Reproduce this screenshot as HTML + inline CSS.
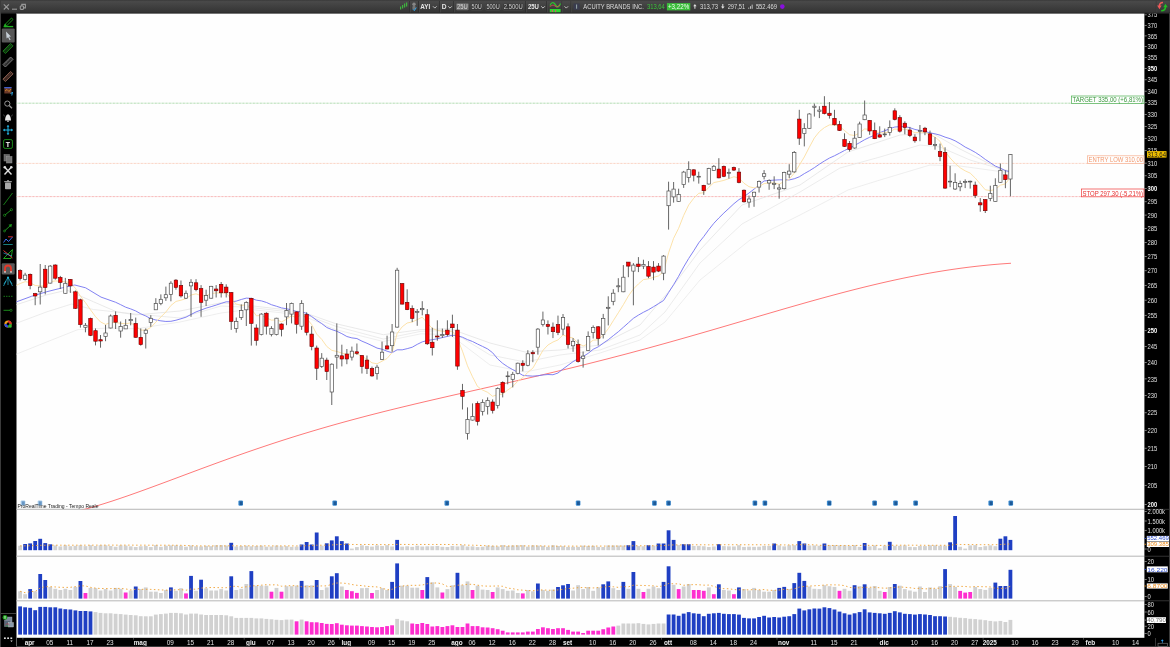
<!DOCTYPE html><html><head><meta charset="utf-8"><style>
html,body{margin:0;padding:0;background:#000;width:1170px;height:647px;overflow:hidden}
svg{display:block;font-family:"Liberation Sans",sans-serif;will-change:transform;opacity:0.999}
</style></head><body>
<svg width="1170" height="647" viewBox="0 0 1170 647">
<defs><linearGradient id="tb" x1="0" y1="0" x2="0" y2="1"><stop offset="0" stop-color="#3a3a3a"/><stop offset="0.12" stop-color="#4a4a4a"/><stop offset="1" stop-color="#343434"/></linearGradient><clipPath id="main"><rect x="16.4" y="13.6" width="1128" height="495.6"/></clipPath></defs>
<rect x="0" y="0" width="1170" height="647" fill="#000"/>
<rect x="0" y="0" width="1170" height="13" fill="url(#tb)"/>
<rect x="0" y="12.4" width="1170" height="1.2" fill="#2b2b2b"/>
<rect x="0" y="0" width="1" height="647" fill="#3c3c3c"/>
<rect x="1169" y="13" width="1" height="634" fill="#3c3c3c"/>
<rect x="16.4" y="13.6" width="1128" height="624.2" fill="#fff"/>
<rect x="16" y="13.6" width="0.8" height="633.4" fill="#7a7a7a"/>
<rect x="16.4" y="508.75" width="1128" height="1.1" fill="#bdbdbd"/>
<rect x="1144.4" y="508.85" width="24.6" height="0.9" fill="#3a3a3a"/>
<rect x="16.4" y="555.65" width="1128" height="1.1" fill="#bdbdbd"/>
<rect x="1144.4" y="555.75" width="24.6" height="0.9" fill="#3a3a3a"/>
<rect x="16.4" y="600.25" width="1128" height="1.1" fill="#bdbdbd"/>
<rect x="1144.4" y="600.35" width="24.6" height="0.9" fill="#3a3a3a"/>
<rect x="1" y="613" width="15" height="0.8" fill="#555"/>
<g clip-path="url(#main)">
<line x1="16.4" y1="103.2" x2="1144.4" y2="103.2" stroke="#84c884" stroke-width="0.9" stroke-dasharray="0.7 0.7"/>
<line x1="16.4" y1="163.4" x2="1144.4" y2="163.4" stroke="#f8bca4" stroke-width="0.9" stroke-dasharray="0.7 0.7"/>
<line x1="16.4" y1="196.6" x2="1144.4" y2="196.6" stroke="#f49090" stroke-width="0.9" stroke-dasharray="0.7 0.7"/>
<polyline points="16,354.3 46.9,341.9 77.9,329.6 108.8,328 136,328.8 180,322 221,313 250,309.4 301.3,315 335.5,329.6 383.3,341.5 421,333.8 450,334.7 490,365 525,372 560,365 600,353 640,340 665,322 700,280 750,240 800,215 848,190 880,180 930,165 960,166 1011,173" fill="none" stroke="#ebebeb" stroke-width="0.8"/>
<polyline points="16,323.4 46.9,311.8 71.7,304 93.3,309.5 136,314.1 180,318 221,306 250,307.4 301.3,313.3 335.5,326.2 383.3,339 421,331.3 450,330.4 490,355 525,362 560,355 600,350 640,335 665,312 700,263 742,224 800,192 840,168 880,157 920,145 940,147 970,160 1011,172" fill="none" stroke="#e8e8e8" stroke-width="0.8"/>
<polyline points="16,304.8 46.9,294.8 67,290.1 93.3,301.7 116.5,311.8 136,314.9 180,311 221,302.8 250,305.6 301.3,311.6 335.5,323.6 383.3,334.7 421,329.6 450,328.7 490,343 525,352 560,350 600,345 640,325 670,290 700,250 742,205 800,185 848,152 900,135 932,133 960,149 1000,169 1011,171" fill="none" stroke="#e4e4e4" stroke-width="0.8"/>
<polyline points="80,510.57 88,508.42 96,506.12 104,503.67 112,501.11 120,498.45 128,495.71 136,492.89 144,490.01 152,487.09 160,484.14 168,481.16 176,478.18 184,475.18 192,472.19 200,469.21 208,466.25 216,463.32 224,460.41 232,457.53 240,454.7 248,451.9 256,449.15 264,446.44 272,443.78 280,441.16 288,438.6 296,436.09 304,433.63 312,431.22 320,428.85 328,426.54 336,424.27 344,422.05 352,419.87 360,417.74 368,415.64 376,413.58 384,411.56 392,409.57 400,407.62 408,405.69 416,403.78 424,401.9 432,400.03 440,398.19 448,396.35 456,394.53 464,392.72 472,390.91 480,389.1 488,387.3 496,385.49 504,383.67 512,381.85 520,380.02 528,378.17 536,376.32 544,374.44 552,372.55 560,370.64 568,368.71 576,366.76 584,364.78 592,362.79 600,360.76 608,358.72 616,356.64 624,354.55 632,352.43 640,350.28 648,348.11 656,345.92 664,343.7 672,341.46 680,339.2 688,336.93 696,334.63 704,332.32 712,330 720,327.67 728,325.33 736,322.98 744,320.63 752,318.27 760,315.92 768,313.58 776,311.25 784,308.92 792,306.62 800,304.33 808,302.06 816,299.82 824,297.62 832,295.44 840,293.31 848,291.21 856,289.16 864,287.16 872,285.22 880,283.33 888,281.5 896,279.74 904,278.04 912,276.42 920,274.87 928,273.4 936,272 944,270.69 952,269.47 960,268.34 968,267.29 976,266.33 984,265.47 992,264.7 1000,264.03 1008,263.45 1011,263.25" fill="none" stroke="#ff6262" stroke-width="0.85"/>
<polyline points="16,302 31.5,296.3 46.9,291.7 62.4,287.8 74.8,285 85.6,287.8 101,297.1 115.61,302.27 120.64,304.66 125.67,307.19 130.69,308.91 135.72,310.95 140.75,313.82 145.78,315.97 150.8,318.66 155.83,319.98 160.86,320.85 165.88,321.45 170.91,321.31 175.94,320.23 180.96,318.78 185.99,317.16 191.02,314.48 196.04,311.91 201.07,310.01 206.1,308.15 211.13,306.65 216.15,305.08 221.18,303.42 226.21,301.8 231.23,301.89 236.26,301.13 241.29,299.48 246.31,298.12 251.34,298.37 256.37,300.16 261.4,300.89 266.42,302.45 271.45,304.71 276.48,306.26 281.5,307.92 286.53,308.78 291.56,309.86 296.59,311.6 301.61,311.65 306.64,313.48 311.67,316.49 316.69,320.31 321.72,323.57 326.75,327.47 331.77,329.58 336.8,331.25 341.83,333.67 346.86,336.51 351.88,337.9 356.91,338.54 361.94,341.17 366.96,343.27 371.99,345.61 377.02,348.07 382.04,349.23 387.07,351.21 392.1,352.7 397.13,349.8 402.15,349.84 407.18,348.67 412.21,347.23 417.23,344.37 422.26,341.86 427.29,340.5 432.31,339.69 437.34,338.79 442.37,337.58 447.4,336.38 452.42,335.21 457.45,335.83 462.48,337.23 467.5,339.61 472.53,341.5 477.56,344.04 482.58,346.45 487.61,348.93 492.64,352.76 497.67,358.88 502.69,363.37 507.72,366.77 512.75,369.65 517.77,372.34 522.8,375.32 527.83,375.84 532.85,376.15 537.88,375.73 542.91,374.96 547.94,374.53 552.96,374.74 557.99,373.01 563.02,368.99 568.04,365.31 573.07,361.62 578.1,358.75 583.12,356.49 588.15,353.35 593.18,349.29 598.21,346.84 603.23,343.19 608.26,339.76 613.29,335.68 618.31,331.76 623.34,327.31 628.37,322.83 633.39,318.33 638.42,315.12 643.45,312.27 648.48,309.72 653.5,306.72 658.53,303.63 663.56,300.5 668.58,292.52 673.61,284.67 678.64,276.26 683.66,266.95 688.69,258.48 693.72,250.83 698.75,242.81 703.77,236.54 708.8,229.64 713.83,223.31 718.85,217.99 723.88,213.01 728.91,208.38 733.93,203.7 738.96,199.62 743.99,196.62 749.01,192.97 754.04,189.18 759.07,184.91 764.1,180.95 769.12,180.43 774.15,180.14 779.18,179.82 784.2,179.84 789.23,179.93 794.26,178.78 799.29,176.82 804.31,173.65 809.34,170.81 814.37,167.67 819.39,164.19 824.42,160.97 829.45,158.07 834.47,155.77 839.5,153.18 844.53,150.49 849.56,148.09 854.58,145.45 859.61,142.61 864.64,139.69 869.66,137.27 874.69,135.11 879.72,132.66 884.74,130.79 889.77,128.66 894.8,127.02 899.83,126.67 904.85,126.61 909.88,127.69 914.91,129.44 919.93,130.47 924.96,131.4 929.99,132.86 935.01,133.84 940.04,135.13 945.07,137.13 950.1,138.66 955.12,140.82 960.15,143.75 965.18,147.07 970.2,149.56 975.23,152.34 980.26,155.65 985.28,159.42 990.31,162.72 995.34,166.07 1000.37,168.07 1005.39,170.73 1010.42,171.72" fill="none" stroke="#7c7cf2" stroke-width="0.95"/>
<polyline points="16,285.5 20.1,283.55 25.13,281.66 30.15,282.54 35.18,285.51 40.21,285.86 45.23,286.23 50.26,281.71 55.29,280.93 60.32,281.28 65.34,281.73 70.37,282.65 75.4,288.28 80.42,296.2 85.45,302.58 90.48,309.75 95.5,316.63 100.53,321.98 105.56,324.42 110.59,322.54 115.61,322.46 120.64,323.34 125.67,323.77 130.69,322.84 135.72,326.03 140.75,330.12 145.78,330.14 150.8,327.49 155.83,322.12 160.86,316.99 165.88,311.98 170.91,305.49 175.94,301.44 180.96,300.2 185.99,298.66 191.02,295 196.04,293.82 201.07,295.72 206.1,295.69 211.13,293.59 216.15,292.97 221.18,292.93 226.21,292.9 231.23,299.15 236.26,304.04 241.29,305.49 246.31,304.8 251.34,308.9 256.37,315.79 261.4,315.41 266.42,317.8 271.45,320.18 276.48,319.74 281.5,321.86 286.53,319.3 291.56,315.74 296.59,317.63 301.61,314.45 306.64,318.38 311.67,324.56 316.69,334.07 321.72,339.37 326.75,346.42 331.77,350.33 336.8,351.43 341.83,353.11 346.86,354.41 351.88,353.7 356.91,353.61 361.94,356.48 366.96,359.13 371.99,362.83 377.02,363.8 382.04,361.21 387.07,358.48 392.1,352.51 397.13,333.46 402.15,326.84 407.18,322.99 412.21,321.97 417.23,319.65 422.26,317.18 427.29,323.02 432.31,328.44 437.34,330.33 442.37,331.28 447.4,332.02 452.42,331.05 457.45,338.71 462.48,351.16 467.5,365.84 472.53,376.82 477.56,386.53 482.58,390.03 487.61,392.32 492.64,396.32 497.67,394.56 502.69,394.08 507.72,390 512.75,386.48 517.77,381.25 522.8,377.68 527.83,372.31 532.85,368.16 537.88,359.31 542.91,350.4 547.94,345.02 552.96,342.04 557.99,339.91 563.02,334.9 568.04,337.02 573.07,337.97 578.1,343.16 583.12,346.02 588.15,343.87 593.18,340.18 598.21,339.81 603.23,335 608.26,328.76 613.29,320.71 618.31,312.82 623.34,304.76 628.37,296 633.39,289.03 638.42,283.97 643.45,279.6 648.48,278.84 653.5,277.34 658.53,275.95 663.56,271.49 668.58,252.87 673.61,238.24 678.64,228.28 683.66,215.44 688.69,204.97 693.72,198.26 698.75,193.32 703.77,192.74 708.8,187.31 713.83,182.59 718.85,181.55 723.88,180.38 728.91,178.62 733.93,176.72 738.96,178 743.99,183.23 749.01,186.7 754.04,187.92 759.07,186.47 764.1,183.61 769.12,182.92 774.15,183 779.18,184.09 784.2,181.5 789.23,179.18 794.26,173.19 799.29,165.28 804.31,156.98 809.34,147.22 814.37,137.92 819.39,131.65 824.42,127.58 829.45,124.88 834.47,124.86 839.5,126.11 844.53,130.57 849.56,134.74 854.58,135.51 859.61,132.94 864.64,128.91 869.66,129.38 874.69,131.44 879.72,132.69 884.74,132.98 889.77,131.74 894.8,129 899.83,129.49 904.85,129.03 909.88,130.48 914.91,132.76 919.93,132.28 924.96,132.2 929.99,134.91 935.01,137.03 940.04,141.34 945.07,151.49 950.1,158 955.12,163.37 960.15,167.8 965.18,170.85 970.2,173.14 975.23,178.03 980.26,183.92 985.28,189.79 990.31,190.59 995.34,189.46 1000.37,185.16 1005.39,183.92 1010.42,177.31" fill="none" stroke="#fde2a6" stroke-width="0.95"/>
<line x1="20.1" y1="269.2" x2="20.1" y2="280.5" stroke="#555" stroke-width="0.9"/>
<rect x="18.35" y="270.5" width="3.5" height="8" fill="#f00" stroke="#6a0000" stroke-width="0.6"/>
<line x1="25.13" y1="272.8" x2="25.13" y2="280.5" stroke="#555" stroke-width="0.9"/>
<rect x="23.48" y="275.1" width="3.3" height="4.3" fill="#fff" stroke="#505050" stroke-width="0.7"/>
<line x1="30.15" y1="273.5" x2="30.15" y2="289.3" stroke="#555" stroke-width="0.9"/>
<rect x="28.4" y="274.3" width="3.5" height="11.3" fill="#f00" stroke="#6a0000" stroke-width="0.6"/>
<line x1="35.18" y1="292.9" x2="35.18" y2="305.2" stroke="#555" stroke-width="0.9"/>
<rect x="33.43" y="293.6" width="3.5" height="2.4" fill="#f00" stroke="#6a0000" stroke-width="0.6"/>
<line x1="40.21" y1="264" x2="40.21" y2="304.5" stroke="#555" stroke-width="0.9"/>
<rect x="38.56" y="287.1" width="3.3" height="4.7" fill="#fff" stroke="#505050" stroke-width="0.7"/>
<line x1="45.23" y1="265" x2="45.23" y2="294.4" stroke="#555" stroke-width="0.9"/>
<rect x="43.48" y="269.2" width="3.5" height="18.3" fill="#f00" stroke="#6a0000" stroke-width="0.6"/>
<line x1="50.26" y1="265" x2="50.26" y2="283.6" stroke="#555" stroke-width="0.9"/>
<rect x="48.61" y="266.1" width="3.3" height="17" fill="#fff" stroke="#505050" stroke-width="0.7"/>
<line x1="55.29" y1="264.3" x2="55.29" y2="279.7" stroke="#555" stroke-width="0.9"/>
<rect x="53.54" y="265" width="3.5" height="13.2" fill="#f00" stroke="#6a0000" stroke-width="0.6"/>
<line x1="60.32" y1="275.9" x2="60.32" y2="289" stroke="#555" stroke-width="0.9"/>
<rect x="58.57" y="277.4" width="3.5" height="5.1" fill="#f00" stroke="#6a0000" stroke-width="0.6"/>
<line x1="65.34" y1="277.9" x2="65.34" y2="293.6" stroke="#555" stroke-width="0.9"/>
<rect x="63.69" y="283.3" width="3.3" height="10" fill="#fff" stroke="#505050" stroke-width="0.7"/>
<line x1="70.37" y1="279" x2="70.37" y2="292.9" stroke="#555" stroke-width="0.9"/>
<rect x="68.62" y="279.4" width="3.5" height="6.5" fill="#f00" stroke="#6a0000" stroke-width="0.6"/>
<line x1="75.4" y1="290.5" x2="75.4" y2="309" stroke="#555" stroke-width="0.9"/>
<rect x="73.65" y="291.8" width="3.5" height="16.5" fill="#f00" stroke="#6a0000" stroke-width="0.6"/>
<line x1="80.42" y1="298.7" x2="80.42" y2="327.6" stroke="#555" stroke-width="0.9"/>
<rect x="78.67" y="299.8" width="3.5" height="24.8" fill="#f00" stroke="#6a0000" stroke-width="0.6"/>
<line x1="85.45" y1="323" x2="85.45" y2="332.3" stroke="#555" stroke-width="0.9"/>
<rect x="83.8" y="325.3" width="3.3" height="2" fill="#fff" stroke="#505050" stroke-width="0.7"/>
<line x1="90.48" y1="317.6" x2="90.48" y2="336.1" stroke="#555" stroke-width="0.9"/>
<rect x="88.73" y="318.4" width="3.5" height="17" fill="#f00" stroke="#6a0000" stroke-width="0.6"/>
<line x1="95.5" y1="328.4" x2="95.5" y2="345.4" stroke="#555" stroke-width="0.9"/>
<rect x="93.75" y="330.7" width="3.5" height="10.5" fill="#f00" stroke="#6a0000" stroke-width="0.6"/>
<line x1="100.53" y1="335" x2="100.53" y2="347.7" stroke="#555" stroke-width="0.9"/>
<rect x="98.78" y="339.7" width="3.5" height="1.3" fill="#f00" stroke="#6a0000" stroke-width="0.6"/>
<line x1="105.56" y1="324.9" x2="105.56" y2="341.2" stroke="#555" stroke-width="0.9"/>
<rect x="103.91" y="333" width="3.3" height="3.4" fill="#fff" stroke="#505050" stroke-width="0.7"/>
<line x1="110.59" y1="314.5" x2="110.59" y2="328.4" stroke="#555" stroke-width="0.9"/>
<rect x="108.94" y="316" width="3.3" height="12" fill="#fff" stroke="#505050" stroke-width="0.7"/>
<line x1="115.61" y1="311.4" x2="115.61" y2="329" stroke="#555" stroke-width="0.9"/>
<rect x="113.86" y="315.3" width="3.5" height="6.9" fill="#f00" stroke="#6a0000" stroke-width="0.6"/>
<line x1="120.64" y1="321.5" x2="120.64" y2="337.7" stroke="#555" stroke-width="0.9"/>
<rect x="118.99" y="326.4" width="3.3" height="4.6" fill="#fff" stroke="#505050" stroke-width="0.7"/>
<line x1="125.67" y1="319.2" x2="125.67" y2="328.9" stroke="#555" stroke-width="0.9"/>
<rect x="124.02" y="325.3" width="3.3" height="3.6" fill="#fff" stroke="#505050" stroke-width="0.7"/>
<line x1="130.69" y1="313" x2="130.69" y2="325.3" stroke="#555" stroke-width="0.9"/>
<rect x="129.04" y="319.6" width="3.3" height="1.1" fill="#fff" stroke="#505050" stroke-width="0.7"/>
<line x1="135.72" y1="317.6" x2="135.72" y2="337.6" stroke="#555" stroke-width="0.9"/>
<rect x="133.97" y="323.4" width="3.5" height="13.9" fill="#f00" stroke="#6a0000" stroke-width="0.6"/>
<line x1="140.75" y1="328.4" x2="140.75" y2="345.7" stroke="#555" stroke-width="0.9"/>
<rect x="139" y="337.3" width="3.5" height="7.3" fill="#f00" stroke="#6a0000" stroke-width="0.6"/>
<line x1="145.78" y1="328.4" x2="145.78" y2="348.5" stroke="#555" stroke-width="0.9"/>
<rect x="144.12" y="330.2" width="3.3" height="3.1" fill="#fff" stroke="#505050" stroke-width="0.7"/>
<line x1="150.8" y1="315.2" x2="150.8" y2="326.8" stroke="#555" stroke-width="0.9"/>
<rect x="149.15" y="318.3" width="3.3" height="4.2" fill="#fff" stroke="#505050" stroke-width="0.7"/>
<line x1="155.83" y1="298.2" x2="155.83" y2="309.8" stroke="#555" stroke-width="0.9"/>
<rect x="154.18" y="303.6" width="3.3" height="6.2" fill="#fff" stroke="#505050" stroke-width="0.7"/>
<line x1="160.86" y1="294.4" x2="160.86" y2="305.2" stroke="#555" stroke-width="0.9"/>
<rect x="159.21" y="299.3" width="3.3" height="4.3" fill="#fff" stroke="#505050" stroke-width="0.7"/>
<line x1="165.88" y1="286.6" x2="165.88" y2="300.9" stroke="#555" stroke-width="0.9"/>
<rect x="164.23" y="294.7" width="3.3" height="3.1" fill="#fff" stroke="#505050" stroke-width="0.7"/>
<line x1="170.91" y1="281.2" x2="170.91" y2="301.3" stroke="#555" stroke-width="0.9"/>
<rect x="169.26" y="283.2" width="3.3" height="11.2" fill="#fff" stroke="#505050" stroke-width="0.7"/>
<line x1="175.94" y1="279.2" x2="175.94" y2="289.7" stroke="#555" stroke-width="0.9"/>
<rect x="174.19" y="280.1" width="3.5" height="7.3" fill="#f00" stroke="#6a0000" stroke-width="0.6"/>
<line x1="180.96" y1="280.5" x2="180.96" y2="297.5" stroke="#555" stroke-width="0.9"/>
<rect x="179.21" y="285.4" width="3.5" height="10.5" fill="#f00" stroke="#6a0000" stroke-width="0.6"/>
<line x1="185.99" y1="290.5" x2="185.99" y2="299" stroke="#555" stroke-width="0.9"/>
<rect x="184.34" y="293.3" width="3.3" height="4.9" fill="#fff" stroke="#505050" stroke-width="0.7"/>
<line x1="191.02" y1="279.2" x2="191.02" y2="316.8" stroke="#555" stroke-width="0.9"/>
<rect x="189.37" y="282.3" width="3.3" height="3.6" fill="#fff" stroke="#505050" stroke-width="0.7"/>
<line x1="196.04" y1="279.2" x2="196.04" y2="291.3" stroke="#555" stroke-width="0.9"/>
<rect x="194.29" y="282.8" width="3.5" height="6.9" fill="#f00" stroke="#6a0000" stroke-width="0.6"/>
<line x1="201.07" y1="285.1" x2="201.07" y2="316.8" stroke="#555" stroke-width="0.9"/>
<rect x="199.32" y="288.5" width="3.5" height="13.9" fill="#f00" stroke="#6a0000" stroke-width="0.6"/>
<line x1="206.1" y1="289.7" x2="206.1" y2="306" stroke="#555" stroke-width="0.9"/>
<rect x="204.45" y="295.6" width="3.3" height="4.6" fill="#fff" stroke="#505050" stroke-width="0.7"/>
<line x1="211.13" y1="285.9" x2="211.13" y2="298.7" stroke="#555" stroke-width="0.9"/>
<rect x="209.48" y="286.3" width="3.3" height="11.9" fill="#fff" stroke="#505050" stroke-width="0.7"/>
<line x1="216.15" y1="285.1" x2="216.15" y2="297.5" stroke="#555" stroke-width="0.9"/>
<rect x="214.4" y="289" width="3.5" height="1.8" fill="#f00" stroke="#6a0000" stroke-width="0.6"/>
<line x1="221.18" y1="282" x2="221.18" y2="297.5" stroke="#555" stroke-width="0.9"/>
<rect x="219.43" y="284.3" width="3.5" height="8.5" fill="#f00" stroke="#6a0000" stroke-width="0.6"/>
<line x1="226.21" y1="284.3" x2="226.21" y2="297.5" stroke="#555" stroke-width="0.9"/>
<rect x="224.46" y="287.1" width="3.5" height="5.7" fill="#f00" stroke="#6a0000" stroke-width="0.6"/>
<line x1="231.23" y1="292" x2="231.23" y2="329.9" stroke="#555" stroke-width="0.9"/>
<rect x="229.48" y="292.5" width="3.5" height="28.9" fill="#f00" stroke="#6a0000" stroke-width="0.6"/>
<line x1="236.26" y1="317.5" x2="236.26" y2="332.7" stroke="#555" stroke-width="0.9"/>
<rect x="234.61" y="321.4" width="3.3" height="7" fill="#fff" stroke="#505050" stroke-width="0.7"/>
<line x1="241.29" y1="304.4" x2="241.29" y2="319.9" stroke="#555" stroke-width="0.9"/>
<rect x="239.64" y="310.6" width="3.3" height="6.9" fill="#fff" stroke="#505050" stroke-width="0.7"/>
<line x1="246.31" y1="301.3" x2="246.31" y2="326" stroke="#555" stroke-width="0.9"/>
<rect x="244.66" y="302.4" width="3.3" height="7.4" fill="#fff" stroke="#505050" stroke-width="0.7"/>
<line x1="251.34" y1="297.8" x2="251.34" y2="345.6" stroke="#555" stroke-width="0.9"/>
<rect x="249.59" y="298.3" width="3.5" height="25.1" fill="#f00" stroke="#6a0000" stroke-width="0.6"/>
<line x1="256.37" y1="324.3" x2="256.37" y2="345.6" stroke="#555" stroke-width="0.9"/>
<rect x="254.62" y="328" width="3.5" height="12.4" fill="#f00" stroke="#6a0000" stroke-width="0.6"/>
<line x1="261.4" y1="313.2" x2="261.4" y2="335.4" stroke="#555" stroke-width="0.9"/>
<rect x="259.75" y="314.1" width="3.3" height="20.4" fill="#fff" stroke="#505050" stroke-width="0.7"/>
<line x1="266.42" y1="312.3" x2="266.42" y2="334.5" stroke="#555" stroke-width="0.9"/>
<rect x="264.67" y="313.2" width="3.5" height="13" fill="#f00" stroke="#6a0000" stroke-width="0.6"/>
<line x1="271.45" y1="326.2" x2="271.45" y2="336.4" stroke="#555" stroke-width="0.9"/>
<rect x="269.8" y="328.6" width="3.3" height="5.9" fill="#fff" stroke="#505050" stroke-width="0.7"/>
<line x1="276.48" y1="317.8" x2="276.48" y2="335.4" stroke="#555" stroke-width="0.9"/>
<rect x="274.83" y="318.2" width="3.3" height="16.3" fill="#fff" stroke="#505050" stroke-width="0.7"/>
<line x1="281.5" y1="323.4" x2="281.5" y2="336.4" stroke="#555" stroke-width="0.9"/>
<rect x="279.75" y="324" width="3.5" height="5.3" fill="#f00" stroke="#6a0000" stroke-width="0.6"/>
<line x1="286.53" y1="303" x2="286.53" y2="325.2" stroke="#555" stroke-width="0.9"/>
<rect x="284.88" y="310.4" width="3.3" height="6.5" fill="#fff" stroke="#505050" stroke-width="0.7"/>
<line x1="291.56" y1="302.6" x2="291.56" y2="323.4" stroke="#555" stroke-width="0.9"/>
<rect x="289.91" y="303.4" width="3.3" height="10.7" fill="#fff" stroke="#505050" stroke-width="0.7"/>
<line x1="296.59" y1="311.3" x2="296.59" y2="333.6" stroke="#555" stroke-width="0.9"/>
<rect x="294.84" y="311.9" width="3.5" height="12.4" fill="#f00" stroke="#6a0000" stroke-width="0.6"/>
<line x1="301.61" y1="300.2" x2="301.61" y2="329.9" stroke="#555" stroke-width="0.9"/>
<rect x="299.96" y="303.4" width="3.3" height="22.8" fill="#fff" stroke="#505050" stroke-width="0.7"/>
<line x1="306.64" y1="312.3" x2="306.64" y2="335.4" stroke="#555" stroke-width="0.9"/>
<rect x="304.89" y="314.5" width="3.5" height="17.8" fill="#f00" stroke="#6a0000" stroke-width="0.6"/>
<line x1="311.67" y1="326.2" x2="311.67" y2="350.3" stroke="#555" stroke-width="0.9"/>
<rect x="309.92" y="334.1" width="3.5" height="12.5" fill="#f00" stroke="#6a0000" stroke-width="0.6"/>
<line x1="316.69" y1="345.6" x2="316.69" y2="380" stroke="#555" stroke-width="0.9"/>
<rect x="314.94" y="348" width="3.5" height="20.3" fill="#f00" stroke="#6a0000" stroke-width="0.6"/>
<line x1="321.72" y1="353.1" x2="321.72" y2="367.9" stroke="#555" stroke-width="0.9"/>
<rect x="320.07" y="358.2" width="3.3" height="8.2" fill="#fff" stroke="#505050" stroke-width="0.7"/>
<line x1="326.75" y1="357.7" x2="326.75" y2="380" stroke="#555" stroke-width="0.9"/>
<rect x="325" y="360.1" width="3.5" height="11.5" fill="#f00" stroke="#6a0000" stroke-width="0.6"/>
<line x1="331.77" y1="363.3" x2="331.77" y2="405" stroke="#555" stroke-width="0.9"/>
<rect x="330.12" y="364.2" width="3.3" height="27.8" fill="#fff" stroke="#505050" stroke-width="0.7"/>
<line x1="336.8" y1="323.4" x2="336.8" y2="368.8" stroke="#555" stroke-width="0.9"/>
<rect x="335.15" y="355.3" width="3.3" height="1.8" fill="#fff" stroke="#505050" stroke-width="0.7"/>
<line x1="341.83" y1="344.7" x2="341.83" y2="366.4" stroke="#555" stroke-width="0.9"/>
<rect x="340.08" y="355.8" width="3.5" height="3.2" fill="#f00" stroke="#6a0000" stroke-width="0.6"/>
<line x1="346.86" y1="349" x2="346.86" y2="364.2" stroke="#555" stroke-width="0.9"/>
<rect x="345.11" y="354" width="3.5" height="5" fill="#f00" stroke="#6a0000" stroke-width="0.6"/>
<line x1="351.88" y1="346.6" x2="351.88" y2="360.5" stroke="#555" stroke-width="0.9"/>
<rect x="350.23" y="351.2" width="3.3" height="5.9" fill="#fff" stroke="#505050" stroke-width="0.7"/>
<line x1="356.91" y1="343.5" x2="356.91" y2="354.9" stroke="#555" stroke-width="0.9"/>
<rect x="355.16" y="351.8" width="3.5" height="1.5" fill="#f00" stroke="#6a0000" stroke-width="0.6"/>
<line x1="361.94" y1="355" x2="361.94" y2="373.5" stroke="#555" stroke-width="0.9"/>
<rect x="360.19" y="355.5" width="3.5" height="11.1" fill="#f00" stroke="#6a0000" stroke-width="0.6"/>
<line x1="366.96" y1="355.5" x2="366.96" y2="374" stroke="#555" stroke-width="0.9"/>
<rect x="365.21" y="360.1" width="3.5" height="8.4" fill="#f00" stroke="#6a0000" stroke-width="0.6"/>
<line x1="371.99" y1="366.6" x2="371.99" y2="376.8" stroke="#555" stroke-width="0.9"/>
<rect x="370.24" y="368.5" width="3.5" height="7.4" fill="#f00" stroke="#6a0000" stroke-width="0.6"/>
<line x1="377.02" y1="364.8" x2="377.02" y2="379.6" stroke="#555" stroke-width="0.9"/>
<rect x="375.37" y="367.2" width="3.3" height="6.3" fill="#fff" stroke="#505050" stroke-width="0.7"/>
<line x1="382.04" y1="341.6" x2="382.04" y2="360.1" stroke="#555" stroke-width="0.9"/>
<rect x="380.39" y="352.2" width="3.3" height="7.4" fill="#fff" stroke="#505050" stroke-width="0.7"/>
<line x1="387.07" y1="335.7" x2="387.07" y2="349.4" stroke="#555" stroke-width="0.9"/>
<rect x="385.32" y="345.9" width="3.5" height="3.1" fill="#f00" stroke="#6a0000" stroke-width="0.6"/>
<line x1="392.1" y1="324" x2="392.1" y2="351.8" stroke="#555" stroke-width="0.9"/>
<rect x="390.45" y="332" width="3.3" height="13.7" fill="#fff" stroke="#505050" stroke-width="0.7"/>
<line x1="397.13" y1="267.8" x2="397.13" y2="327.7" stroke="#555" stroke-width="0.9"/>
<rect x="395.48" y="270.2" width="3.3" height="56.9" fill="#fff" stroke="#505050" stroke-width="0.7"/>
<line x1="402.15" y1="283.2" x2="402.15" y2="304.5" stroke="#555" stroke-width="0.9"/>
<rect x="400.4" y="283.6" width="3.5" height="20.5" fill="#f00" stroke="#6a0000" stroke-width="0.6"/>
<line x1="407.18" y1="289.3" x2="407.18" y2="310.1" stroke="#555" stroke-width="0.9"/>
<rect x="405.43" y="302.3" width="3.5" height="7.4" fill="#f00" stroke="#6a0000" stroke-width="0.6"/>
<line x1="412.21" y1="305.4" x2="412.21" y2="322.1" stroke="#555" stroke-width="0.9"/>
<rect x="410.46" y="308.6" width="3.5" height="9.8" fill="#f00" stroke="#6a0000" stroke-width="0.6"/>
<line x1="417.23" y1="309.1" x2="417.23" y2="325.8" stroke="#555" stroke-width="0.9"/>
<rect x="415.58" y="311.6" width="3.3" height="0.9" fill="#fff" stroke="#505050" stroke-width="0.7"/>
<line x1="422.26" y1="301.2" x2="422.26" y2="315.3" stroke="#555" stroke-width="0.9"/>
<rect x="420.61" y="308.6" width="3.3" height="1.1" fill="#fff" stroke="#505050" stroke-width="0.7"/>
<line x1="427.29" y1="309.1" x2="427.29" y2="344.9" stroke="#555" stroke-width="0.9"/>
<rect x="425.54" y="314.7" width="3.5" height="29.1" fill="#f00" stroke="#6a0000" stroke-width="0.6"/>
<line x1="432.31" y1="327.7" x2="432.31" y2="355.5" stroke="#555" stroke-width="0.9"/>
<rect x="430.56" y="342.2" width="3.5" height="5.5" fill="#f00" stroke="#6a0000" stroke-width="0.6"/>
<line x1="437.34" y1="320.3" x2="437.34" y2="340.7" stroke="#555" stroke-width="0.9"/>
<rect x="435.59" y="336" width="3.5" height="1" fill="#f00" stroke="#6a0000" stroke-width="0.6"/>
<line x1="442.37" y1="328.6" x2="442.37" y2="337.9" stroke="#555" stroke-width="0.9"/>
<rect x="440.72" y="334.6" width="3.3" height="1.1" fill="#fff" stroke="#505050" stroke-width="0.7"/>
<line x1="447.4" y1="320.3" x2="447.4" y2="336.4" stroke="#555" stroke-width="0.9"/>
<rect x="445.65" y="330.1" width="3.5" height="4.5" fill="#f00" stroke="#6a0000" stroke-width="0.6"/>
<line x1="452.42" y1="314.7" x2="452.42" y2="337" stroke="#555" stroke-width="0.9"/>
<rect x="450.67" y="324" width="3.5" height="3.7" fill="#f00" stroke="#6a0000" stroke-width="0.6"/>
<line x1="457.45" y1="324" x2="457.45" y2="369.8" stroke="#555" stroke-width="0.9"/>
<rect x="455.7" y="330.1" width="3.5" height="36" fill="#f00" stroke="#6a0000" stroke-width="0.6"/>
<line x1="462.48" y1="383.9" x2="462.48" y2="409.5" stroke="#555" stroke-width="0.9"/>
<rect x="460.73" y="390.4" width="3.5" height="6" fill="#f00" stroke="#6a0000" stroke-width="0.6"/>
<line x1="467.5" y1="407.4" x2="467.5" y2="439.6" stroke="#555" stroke-width="0.9"/>
<rect x="465.85" y="419.5" width="3.3" height="14.1" fill="#fff" stroke="#505050" stroke-width="0.7"/>
<line x1="472.53" y1="403.4" x2="472.53" y2="420.5" stroke="#555" stroke-width="0.9"/>
<rect x="470.88" y="416.5" width="3.3" height="3.6" fill="#fff" stroke="#505050" stroke-width="0.7"/>
<line x1="477.56" y1="401.4" x2="477.56" y2="425.5" stroke="#555" stroke-width="0.9"/>
<rect x="475.81" y="403.4" width="3.5" height="18.1" fill="#f00" stroke="#6a0000" stroke-width="0.6"/>
<line x1="482.58" y1="399.4" x2="482.58" y2="415.5" stroke="#555" stroke-width="0.9"/>
<rect x="480.93" y="402.4" width="3.3" height="9.1" fill="#fff" stroke="#505050" stroke-width="0.7"/>
<line x1="487.61" y1="397.4" x2="487.61" y2="414.5" stroke="#555" stroke-width="0.9"/>
<rect x="485.96" y="400.4" width="3.3" height="6" fill="#fff" stroke="#505050" stroke-width="0.7"/>
<line x1="492.64" y1="399.4" x2="492.64" y2="413.5" stroke="#555" stroke-width="0.9"/>
<rect x="490.89" y="402" width="3.5" height="8.5" fill="#f00" stroke="#6a0000" stroke-width="0.6"/>
<line x1="497.67" y1="387.4" x2="497.67" y2="408.5" stroke="#555" stroke-width="0.9"/>
<rect x="496.02" y="388.4" width="3.3" height="17" fill="#fff" stroke="#505050" stroke-width="0.7"/>
<line x1="502.69" y1="381.3" x2="502.69" y2="397.4" stroke="#555" stroke-width="0.9"/>
<rect x="500.94" y="382.3" width="3.5" height="10.1" fill="#f00" stroke="#6a0000" stroke-width="0.6"/>
<line x1="507.72" y1="371.3" x2="507.72" y2="384.3" stroke="#555" stroke-width="0.9"/>
<rect x="506.07" y="375.9" width="3.3" height="0.8" fill="#fff" stroke="#505050" stroke-width="0.7"/>
<line x1="512.75" y1="371.9" x2="512.75" y2="387.4" stroke="#555" stroke-width="0.9"/>
<rect x="511.1" y="374.3" width="3.3" height="5" fill="#fff" stroke="#505050" stroke-width="0.7"/>
<line x1="517.77" y1="362.6" x2="517.77" y2="374.3" stroke="#555" stroke-width="0.9"/>
<rect x="516.12" y="363.2" width="3.3" height="10.1" fill="#fff" stroke="#505050" stroke-width="0.7"/>
<line x1="522.8" y1="360.2" x2="522.8" y2="371.3" stroke="#555" stroke-width="0.9"/>
<rect x="521.05" y="363.2" width="3.5" height="2.1" fill="#f00" stroke="#6a0000" stroke-width="0.6"/>
<line x1="527.83" y1="350.2" x2="527.83" y2="366.3" stroke="#555" stroke-width="0.9"/>
<rect x="526.18" y="353.8" width="3.3" height="11.5" fill="#fff" stroke="#505050" stroke-width="0.7"/>
<line x1="532.85" y1="350.2" x2="532.85" y2="362.2" stroke="#555" stroke-width="0.9"/>
<rect x="531.1" y="352.6" width="3.5" height="1.2" fill="#f00" stroke="#6a0000" stroke-width="0.6"/>
<line x1="537.88" y1="328.1" x2="537.88" y2="354.6" stroke="#555" stroke-width="0.9"/>
<rect x="536.23" y="329.1" width="3.3" height="18.1" fill="#fff" stroke="#505050" stroke-width="0.7"/>
<line x1="542.91" y1="311.6" x2="542.91" y2="326.5" stroke="#555" stroke-width="0.9"/>
<rect x="541.26" y="320" width="3.3" height="4.5" fill="#fff" stroke="#505050" stroke-width="0.7"/>
<line x1="547.94" y1="320.4" x2="547.94" y2="334.5" stroke="#555" stroke-width="0.9"/>
<rect x="546.19" y="324.5" width="3.5" height="2" fill="#f00" stroke="#6a0000" stroke-width="0.6"/>
<line x1="552.96" y1="322.5" x2="552.96" y2="338.1" stroke="#555" stroke-width="0.9"/>
<rect x="551.21" y="327.1" width="3.5" height="4.6" fill="#f00" stroke="#6a0000" stroke-width="0.6"/>
<line x1="557.99" y1="315.6" x2="557.99" y2="335.1" stroke="#555" stroke-width="0.9"/>
<rect x="556.24" y="324.5" width="3.5" height="8" fill="#f00" stroke="#6a0000" stroke-width="0.6"/>
<line x1="563.02" y1="314" x2="563.02" y2="335.1" stroke="#555" stroke-width="0.9"/>
<rect x="561.37" y="317.6" width="3.3" height="11.5" fill="#fff" stroke="#505050" stroke-width="0.7"/>
<line x1="568.04" y1="323.4" x2="568.04" y2="348.5" stroke="#555" stroke-width="0.9"/>
<rect x="566.29" y="326.8" width="3.5" height="17.7" fill="#f00" stroke="#6a0000" stroke-width="0.6"/>
<line x1="573.07" y1="338.1" x2="573.07" y2="351.8" stroke="#555" stroke-width="0.9"/>
<rect x="571.42" y="341.3" width="3.3" height="4.5" fill="#fff" stroke="#505050" stroke-width="0.7"/>
<line x1="578.1" y1="339.5" x2="578.1" y2="362.6" stroke="#555" stroke-width="0.9"/>
<rect x="576.35" y="344.5" width="3.5" height="17.1" fill="#f00" stroke="#6a0000" stroke-width="0.6"/>
<line x1="583.12" y1="351.5" x2="583.12" y2="367.6" stroke="#555" stroke-width="0.9"/>
<rect x="581.47" y="356.1" width="3.3" height="2.4" fill="#fff" stroke="#505050" stroke-width="0.7"/>
<line x1="588.15" y1="331.4" x2="588.15" y2="350.9" stroke="#555" stroke-width="0.9"/>
<rect x="586.5" y="336.4" width="3.3" height="14.1" fill="#fff" stroke="#505050" stroke-width="0.7"/>
<line x1="593.18" y1="325.4" x2="593.18" y2="338.5" stroke="#555" stroke-width="0.9"/>
<rect x="591.53" y="327.4" width="3.3" height="5" fill="#fff" stroke="#505050" stroke-width="0.7"/>
<line x1="598.21" y1="326" x2="598.21" y2="345.5" stroke="#555" stroke-width="0.9"/>
<rect x="596.46" y="326.8" width="3.5" height="11.7" fill="#f00" stroke="#6a0000" stroke-width="0.6"/>
<line x1="603.23" y1="313.9" x2="603.23" y2="338.5" stroke="#555" stroke-width="0.9"/>
<rect x="601.58" y="318.4" width="3.3" height="16" fill="#fff" stroke="#505050" stroke-width="0.7"/>
<line x1="608.26" y1="296.3" x2="608.26" y2="325.4" stroke="#555" stroke-width="0.9"/>
<rect x="606.61" y="307.3" width="3.3" height="1" fill="#fff" stroke="#505050" stroke-width="0.7"/>
<line x1="613.29" y1="289.2" x2="613.29" y2="305.3" stroke="#555" stroke-width="0.9"/>
<rect x="611.64" y="293.2" width="3.3" height="8.1" fill="#fff" stroke="#505050" stroke-width="0.7"/>
<line x1="618.31" y1="278.2" x2="618.31" y2="292.2" stroke="#555" stroke-width="0.9"/>
<rect x="616.66" y="285.8" width="3.3" height="1" fill="#fff" stroke="#505050" stroke-width="0.7"/>
<line x1="623.34" y1="265.1" x2="623.34" y2="292.2" stroke="#555" stroke-width="0.9"/>
<rect x="621.69" y="277.2" width="3.3" height="14.6" fill="#fff" stroke="#505050" stroke-width="0.7"/>
<line x1="628.37" y1="262.1" x2="628.37" y2="277.2" stroke="#555" stroke-width="0.9"/>
<rect x="626.62" y="262.1" width="3.5" height="4" fill="#f00" stroke="#6a0000" stroke-width="0.6"/>
<line x1="633.39" y1="263.1" x2="633.39" y2="305.3" stroke="#555" stroke-width="0.9"/>
<rect x="631.74" y="265.1" width="3.3" height="6" fill="#fff" stroke="#505050" stroke-width="0.7"/>
<line x1="638.42" y1="257.1" x2="638.42" y2="272.1" stroke="#555" stroke-width="0.9"/>
<rect x="636.67" y="264.1" width="3.5" height="2.4" fill="#f00" stroke="#6a0000" stroke-width="0.6"/>
<line x1="643.45" y1="259.7" x2="643.45" y2="269.1" stroke="#555" stroke-width="0.9"/>
<rect x="641.8" y="264.5" width="3.3" height="1.6" fill="#fff" stroke="#505050" stroke-width="0.7"/>
<line x1="648.48" y1="261.1" x2="648.48" y2="278.2" stroke="#555" stroke-width="0.9"/>
<rect x="646.73" y="266.5" width="3.5" height="9.7" fill="#f00" stroke="#6a0000" stroke-width="0.6"/>
<line x1="653.5" y1="261.1" x2="653.5" y2="280.2" stroke="#555" stroke-width="0.9"/>
<rect x="651.75" y="267.1" width="3.5" height="5" fill="#f00" stroke="#6a0000" stroke-width="0.6"/>
<line x1="658.53" y1="263.1" x2="658.53" y2="272.1" stroke="#555" stroke-width="0.9"/>
<rect x="656.78" y="266.1" width="3.5" height="5" fill="#f00" stroke="#6a0000" stroke-width="0.6"/>
<line x1="663.56" y1="255.1" x2="663.56" y2="280.2" stroke="#555" stroke-width="0.9"/>
<rect x="661.91" y="256.1" width="3.3" height="17.1" fill="#fff" stroke="#505050" stroke-width="0.7"/>
<line x1="668.58" y1="181.7" x2="668.58" y2="229.6" stroke="#555" stroke-width="0.9"/>
<rect x="666.93" y="191" width="3.3" height="14.7" fill="#fff" stroke="#505050" stroke-width="0.7"/>
<line x1="673.61" y1="182" x2="673.61" y2="202.6" stroke="#555" stroke-width="0.9"/>
<rect x="671.96" y="189.1" width="3.3" height="7.8" fill="#fff" stroke="#505050" stroke-width="0.7"/>
<line x1="678.64" y1="188.7" x2="678.64" y2="201.8" stroke="#555" stroke-width="0.9"/>
<rect x="676.99" y="194.4" width="3.3" height="7.1" fill="#fff" stroke="#505050" stroke-width="0.7"/>
<line x1="683.66" y1="170.9" x2="683.66" y2="187.9" stroke="#555" stroke-width="0.9"/>
<rect x="682.01" y="172.1" width="3.3" height="12.4" fill="#fff" stroke="#505050" stroke-width="0.7"/>
<line x1="688.69" y1="161.3" x2="688.69" y2="182.5" stroke="#555" stroke-width="0.9"/>
<rect x="687.04" y="169.4" width="3.3" height="8" fill="#fff" stroke="#505050" stroke-width="0.7"/>
<line x1="693.72" y1="169.4" x2="693.72" y2="181.4" stroke="#555" stroke-width="0.9"/>
<rect x="691.97" y="169.8" width="3.5" height="5.4" fill="#f00" stroke="#6a0000" stroke-width="0.6"/>
<line x1="698.75" y1="171.7" x2="698.75" y2="183.6" stroke="#555" stroke-width="0.9"/>
<rect x="697.1" y="176.3" width="3.3" height="0.8" fill="#fff" stroke="#505050" stroke-width="0.7"/>
<line x1="703.77" y1="184.8" x2="703.77" y2="194.9" stroke="#555" stroke-width="0.9"/>
<rect x="702.02" y="185.3" width="3.5" height="5.4" fill="#f00" stroke="#6a0000" stroke-width="0.6"/>
<line x1="708.8" y1="167.8" x2="708.8" y2="184.5" stroke="#555" stroke-width="0.9"/>
<rect x="707.15" y="168.6" width="3.3" height="15.4" fill="#fff" stroke="#505050" stroke-width="0.7"/>
<line x1="713.83" y1="165" x2="713.83" y2="170.9" stroke="#555" stroke-width="0.9"/>
<rect x="712.18" y="166.3" width="3.3" height="4.3" fill="#fff" stroke="#505050" stroke-width="0.7"/>
<line x1="718.85" y1="158.2" x2="718.85" y2="178.3" stroke="#555" stroke-width="0.9"/>
<rect x="717.1" y="169.1" width="3.5" height="8.8" fill="#f00" stroke="#6a0000" stroke-width="0.6"/>
<line x1="723.88" y1="165.5" x2="723.88" y2="177.1" stroke="#555" stroke-width="0.9"/>
<rect x="722.13" y="166.3" width="3.5" height="10" fill="#f00" stroke="#6a0000" stroke-width="0.6"/>
<line x1="728.91" y1="168.6" x2="728.91" y2="178.6" stroke="#555" stroke-width="0.9"/>
<rect x="727.26" y="172.5" width="3.3" height="0.8" fill="#fff" stroke="#505050" stroke-width="0.7"/>
<line x1="733.93" y1="166.6" x2="733.93" y2="170.9" stroke="#555" stroke-width="0.9"/>
<rect x="732.18" y="167.4" width="3.5" height="2.7" fill="#f00" stroke="#6a0000" stroke-width="0.6"/>
<line x1="738.96" y1="168.1" x2="738.96" y2="183.3" stroke="#555" stroke-width="0.9"/>
<rect x="737.21" y="172.1" width="3.5" height="10.4" fill="#f00" stroke="#6a0000" stroke-width="0.6"/>
<line x1="743.99" y1="189.5" x2="743.99" y2="202.6" stroke="#555" stroke-width="0.9"/>
<rect x="742.24" y="190.2" width="3.5" height="11.6" fill="#f00" stroke="#6a0000" stroke-width="0.6"/>
<line x1="749.01" y1="195.6" x2="749.01" y2="207.7" stroke="#555" stroke-width="0.9"/>
<rect x="747.37" y="199" width="3.3" height="3.1" fill="#fff" stroke="#505050" stroke-width="0.7"/>
<line x1="754.04" y1="191.8" x2="754.04" y2="206.8" stroke="#555" stroke-width="0.9"/>
<rect x="752.39" y="192.2" width="3.3" height="4.2" fill="#fff" stroke="#505050" stroke-width="0.7"/>
<line x1="759.07" y1="180.5" x2="759.07" y2="192.5" stroke="#555" stroke-width="0.9"/>
<rect x="757.42" y="181.4" width="3.3" height="5.7" fill="#fff" stroke="#505050" stroke-width="0.7"/>
<line x1="764.1" y1="170.1" x2="764.1" y2="179.4" stroke="#555" stroke-width="0.9"/>
<rect x="762.45" y="173.7" width="3.3" height="2.6" fill="#fff" stroke="#505050" stroke-width="0.7"/>
<line x1="769.12" y1="179.4" x2="769.12" y2="189.8" stroke="#555" stroke-width="0.9"/>
<rect x="767.47" y="180.5" width="3.3" height="2.5" fill="#fff" stroke="#505050" stroke-width="0.7"/>
<line x1="774.15" y1="176.3" x2="774.15" y2="189.1" stroke="#555" stroke-width="0.9"/>
<rect x="772.5" y="183.3" width="3.3" height="1.1" fill="#fff" stroke="#505050" stroke-width="0.7"/>
<line x1="779.18" y1="184" x2="779.18" y2="198.7" stroke="#555" stroke-width="0.9"/>
<rect x="777.53" y="187.9" width="3.3" height="1.2" fill="#fff" stroke="#505050" stroke-width="0.7"/>
<line x1="784.2" y1="171.7" x2="784.2" y2="189.5" stroke="#555" stroke-width="0.9"/>
<rect x="782.55" y="172.5" width="3.3" height="16.2" fill="#fff" stroke="#505050" stroke-width="0.7"/>
<line x1="789.23" y1="164.2" x2="789.23" y2="178.1" stroke="#555" stroke-width="0.9"/>
<rect x="787.58" y="171.1" width="3.3" height="3.1" fill="#fff" stroke="#505050" stroke-width="0.7"/>
<line x1="794.26" y1="151" x2="794.26" y2="172.7" stroke="#555" stroke-width="0.9"/>
<rect x="792.61" y="152.6" width="3.3" height="19.3" fill="#fff" stroke="#505050" stroke-width="0.7"/>
<line x1="799.29" y1="109.8" x2="799.29" y2="144.9" stroke="#555" stroke-width="0.9"/>
<rect x="797.54" y="119.1" width="3.5" height="19.1" fill="#f00" stroke="#6a0000" stroke-width="0.6"/>
<line x1="804.31" y1="123.2" x2="804.31" y2="146.4" stroke="#555" stroke-width="0.9"/>
<rect x="802.66" y="128.6" width="3.3" height="5" fill="#fff" stroke="#505050" stroke-width="0.7"/>
<line x1="809.34" y1="113.2" x2="809.34" y2="128.6" stroke="#555" stroke-width="0.9"/>
<rect x="807.69" y="114" width="3.3" height="14.3" fill="#fff" stroke="#505050" stroke-width="0.7"/>
<line x1="814.37" y1="103.6" x2="814.37" y2="116.6" stroke="#555" stroke-width="0.9"/>
<rect x="812.72" y="106.2" width="3.3" height="1.1" fill="#fff" stroke="#505050" stroke-width="0.7"/>
<line x1="819.39" y1="106.2" x2="819.39" y2="118.1" stroke="#555" stroke-width="0.9"/>
<rect x="817.74" y="110.1" width="3.3" height="1.2" fill="#fff" stroke="#505050" stroke-width="0.7"/>
<line x1="824.42" y1="96.2" x2="824.42" y2="114.4" stroke="#555" stroke-width="0.9"/>
<rect x="822.67" y="106.2" width="3.5" height="7.3" fill="#f00" stroke="#6a0000" stroke-width="0.6"/>
<line x1="829.45" y1="102.1" x2="829.45" y2="118.6" stroke="#555" stroke-width="0.9"/>
<rect x="827.7" y="113.2" width="3.5" height="2.3" fill="#f00" stroke="#6a0000" stroke-width="0.6"/>
<line x1="834.47" y1="109.8" x2="834.47" y2="125.5" stroke="#555" stroke-width="0.9"/>
<rect x="832.72" y="118.3" width="3.5" height="6.5" fill="#f00" stroke="#6a0000" stroke-width="0.6"/>
<line x1="839.5" y1="120.9" x2="839.5" y2="131" stroke="#555" stroke-width="0.9"/>
<rect x="837.75" y="124.3" width="3.5" height="6.2" fill="#f00" stroke="#6a0000" stroke-width="0.6"/>
<line x1="844.53" y1="133.3" x2="844.53" y2="146.9" stroke="#555" stroke-width="0.9"/>
<rect x="842.78" y="139.5" width="3.5" height="6.9" fill="#f00" stroke="#6a0000" stroke-width="0.6"/>
<line x1="849.56" y1="141" x2="849.56" y2="151.5" stroke="#555" stroke-width="0.9"/>
<rect x="847.81" y="143.3" width="3.5" height="6.2" fill="#f00" stroke="#6a0000" stroke-width="0.6"/>
<line x1="854.58" y1="131" x2="854.58" y2="148.7" stroke="#555" stroke-width="0.9"/>
<rect x="852.93" y="138.2" width="3.3" height="9.8" fill="#fff" stroke="#505050" stroke-width="0.7"/>
<line x1="859.61" y1="121.7" x2="859.61" y2="137.9" stroke="#555" stroke-width="0.9"/>
<rect x="857.96" y="124" width="3.3" height="13.6" fill="#fff" stroke="#505050" stroke-width="0.7"/>
<line x1="864.64" y1="100.5" x2="864.64" y2="120.1" stroke="#555" stroke-width="0.9"/>
<rect x="862.99" y="115" width="3.3" height="4.7" fill="#fff" stroke="#505050" stroke-width="0.7"/>
<line x1="869.66" y1="120.1" x2="869.66" y2="134.8" stroke="#555" stroke-width="0.9"/>
<rect x="867.91" y="120.4" width="3.5" height="10.6" fill="#f00" stroke="#6a0000" stroke-width="0.6"/>
<line x1="874.69" y1="122.5" x2="874.69" y2="139.1" stroke="#555" stroke-width="0.9"/>
<rect x="872.94" y="130.5" width="3.5" height="8.2" fill="#f00" stroke="#6a0000" stroke-width="0.6"/>
<line x1="879.72" y1="126.3" x2="879.72" y2="137.6" stroke="#555" stroke-width="0.9"/>
<rect x="877.97" y="134.8" width="3.5" height="2.3" fill="#f00" stroke="#6a0000" stroke-width="0.6"/>
<line x1="884.74" y1="128.6" x2="884.74" y2="137.1" stroke="#555" stroke-width="0.9"/>
<rect x="883.09" y="134" width="3.3" height="0.8" fill="#fff" stroke="#505050" stroke-width="0.7"/>
<line x1="889.77" y1="120.4" x2="889.77" y2="135.6" stroke="#555" stroke-width="0.9"/>
<rect x="888.12" y="127.4" width="3.3" height="5.1" fill="#fff" stroke="#505050" stroke-width="0.7"/>
<line x1="894.8" y1="108.3" x2="894.8" y2="120.4" stroke="#555" stroke-width="0.9"/>
<rect x="893.05" y="110.8" width="3.5" height="8.7" fill="#f00" stroke="#6a0000" stroke-width="0.6"/>
<line x1="899.83" y1="115.2" x2="899.83" y2="132.5" stroke="#555" stroke-width="0.9"/>
<rect x="898.08" y="117.6" width="3.5" height="13.6" fill="#f00" stroke="#6a0000" stroke-width="0.6"/>
<line x1="904.85" y1="121.3" x2="904.85" y2="134.3" stroke="#555" stroke-width="0.9"/>
<rect x="903.1" y="123.2" width="3.5" height="4.2" fill="#f00" stroke="#6a0000" stroke-width="0.6"/>
<line x1="909.88" y1="126.9" x2="909.88" y2="137.1" stroke="#555" stroke-width="0.9"/>
<rect x="908.13" y="130" width="3.5" height="5.6" fill="#f00" stroke="#6a0000" stroke-width="0.6"/>
<line x1="914.91" y1="134.3" x2="914.91" y2="142.7" stroke="#555" stroke-width="0.9"/>
<rect x="913.16" y="137.1" width="3.5" height="3.7" fill="#f00" stroke="#6a0000" stroke-width="0.6"/>
<line x1="919.93" y1="125" x2="919.93" y2="141.2" stroke="#555" stroke-width="0.9"/>
<rect x="918.28" y="130.6" width="3.3" height="0.9" fill="#fff" stroke="#505050" stroke-width="0.7"/>
<line x1="924.96" y1="126.9" x2="924.96" y2="135.2" stroke="#555" stroke-width="0.9"/>
<rect x="923.21" y="128.2" width="3.5" height="3.7" fill="#f00" stroke="#6a0000" stroke-width="0.6"/>
<line x1="929.99" y1="130.6" x2="929.99" y2="144.9" stroke="#555" stroke-width="0.9"/>
<rect x="928.24" y="133.9" width="3.5" height="10.6" fill="#f00" stroke="#6a0000" stroke-width="0.6"/>
<line x1="935.01" y1="137.1" x2="935.01" y2="149.7" stroke="#555" stroke-width="0.9"/>
<rect x="933.36" y="144.5" width="3.3" height="0.9" fill="#fff" stroke="#505050" stroke-width="0.7"/>
<line x1="940.04" y1="143.6" x2="940.04" y2="161.2" stroke="#555" stroke-width="0.9"/>
<rect x="938.29" y="151.6" width="3.5" height="5" fill="#f00" stroke="#6a0000" stroke-width="0.6"/>
<line x1="945.07" y1="147.3" x2="945.07" y2="189" stroke="#555" stroke-width="0.9"/>
<rect x="943.32" y="152.3" width="3.5" height="35.8" fill="#f00" stroke="#6a0000" stroke-width="0.6"/>
<line x1="950.1" y1="165.8" x2="950.1" y2="187.2" stroke="#555" stroke-width="0.9"/>
<rect x="948.45" y="181.2" width="3.3" height="0.8" fill="#fff" stroke="#505050" stroke-width="0.7"/>
<line x1="955.12" y1="173.3" x2="955.12" y2="190" stroke="#555" stroke-width="0.9"/>
<rect x="953.47" y="182.5" width="3.3" height="6.5" fill="#fff" stroke="#505050" stroke-width="0.7"/>
<line x1="960.15" y1="180.7" x2="960.15" y2="191.2" stroke="#555" stroke-width="0.9"/>
<rect x="958.5" y="183.5" width="3.3" height="3.3" fill="#fff" stroke="#505050" stroke-width="0.7"/>
<line x1="965.18" y1="179.4" x2="965.18" y2="188.1" stroke="#555" stroke-width="0.9"/>
<rect x="963.53" y="181.6" width="3.3" height="0.9" fill="#fff" stroke="#505050" stroke-width="0.7"/>
<line x1="970.2" y1="180.7" x2="970.2" y2="188.6" stroke="#555" stroke-width="0.9"/>
<rect x="968.55" y="181.2" width="3.3" height="0.8" fill="#fff" stroke="#505050" stroke-width="0.7"/>
<line x1="975.23" y1="181.6" x2="975.23" y2="198.1" stroke="#555" stroke-width="0.9"/>
<rect x="973.48" y="185.1" width="3.5" height="10.3" fill="#f00" stroke="#6a0000" stroke-width="0.6"/>
<line x1="980.26" y1="198.1" x2="980.26" y2="211.7" stroke="#555" stroke-width="0.9"/>
<rect x="978.51" y="202.8" width="3.5" height="2.1" fill="#f00" stroke="#6a0000" stroke-width="0.6"/>
<line x1="985.28" y1="199.1" x2="985.28" y2="213" stroke="#555" stroke-width="0.9"/>
<rect x="983.53" y="199.6" width="3.5" height="11.1" fill="#f00" stroke="#6a0000" stroke-width="0.6"/>
<line x1="990.31" y1="185.7" x2="990.31" y2="201.2" stroke="#555" stroke-width="0.9"/>
<rect x="988.66" y="193.4" width="3.3" height="5" fill="#fff" stroke="#505050" stroke-width="0.7"/>
<line x1="995.34" y1="178.3" x2="995.34" y2="201.8" stroke="#555" stroke-width="0.9"/>
<rect x="993.69" y="185.5" width="3.3" height="16.1" fill="#fff" stroke="#505050" stroke-width="0.7"/>
<line x1="1000.37" y1="163.5" x2="1000.37" y2="182.7" stroke="#555" stroke-width="0.9"/>
<rect x="998.72" y="170.3" width="3.3" height="12" fill="#fff" stroke="#505050" stroke-width="0.7"/>
<line x1="1005.39" y1="170.3" x2="1005.39" y2="188.2" stroke="#555" stroke-width="0.9"/>
<rect x="1003.64" y="174.9" width="3.5" height="4.7" fill="#f00" stroke="#6a0000" stroke-width="0.6"/>
<line x1="1010.42" y1="154.2" x2="1010.42" y2="196.3" stroke="#555" stroke-width="0.9"/>
<rect x="1008.77" y="154.6" width="3.3" height="24.4" fill="#fff" stroke="#505050" stroke-width="0.7"/>
<rect x="20.7" y="500.4" width="4.6" height="5.4" rx="1.2" fill="#3a8ad0" opacity="0.45"/>
<rect x="21.9" y="501.4" width="2.8" height="3.6" fill="#1f5a98" opacity="0.45"/>
<rect x="37.7" y="500.4" width="4.6" height="5.4" rx="1.2" fill="#3a8ad0" opacity="0.45"/>
<rect x="38.9" y="501.4" width="2.8" height="3.6" fill="#1f5a98" opacity="0.45"/>
<rect x="238.4" y="500.4" width="4.6" height="5.4" rx="1.2" fill="#3a8ad0" opacity="1"/>
<rect x="239.6" y="501.4" width="2.8" height="3.6" fill="#1f5a98" opacity="1"/>
<rect x="332.4" y="500.4" width="4.6" height="5.4" rx="1.2" fill="#3a8ad0" opacity="1"/>
<rect x="333.6" y="501.4" width="2.8" height="3.6" fill="#1f5a98" opacity="1"/>
<rect x="444.5" y="500.4" width="4.6" height="5.4" rx="1.2" fill="#3a8ad0" opacity="1"/>
<rect x="445.7" y="501.4" width="2.8" height="3.6" fill="#1f5a98" opacity="1"/>
<rect x="575.8" y="500.4" width="4.6" height="5.4" rx="1.2" fill="#3a8ad0" opacity="1"/>
<rect x="577" y="501.4" width="2.8" height="3.6" fill="#1f5a98" opacity="1"/>
<rect x="652.1" y="500.4" width="4.6" height="5.4" rx="1.2" fill="#3a8ad0" opacity="1"/>
<rect x="653.3" y="501.4" width="2.8" height="3.6" fill="#1f5a98" opacity="1"/>
<rect x="666.2" y="500.4" width="4.6" height="5.4" rx="1.2" fill="#3a8ad0" opacity="1"/>
<rect x="667.4" y="501.4" width="2.8" height="3.6" fill="#1f5a98" opacity="1"/>
<rect x="752.6" y="500.4" width="4.6" height="5.4" rx="1.2" fill="#3a8ad0" opacity="1"/>
<rect x="753.8" y="501.4" width="2.8" height="3.6" fill="#1f5a98" opacity="1"/>
<rect x="762.6" y="500.4" width="4.6" height="5.4" rx="1.2" fill="#3a8ad0" opacity="1"/>
<rect x="763.8" y="501.4" width="2.8" height="3.6" fill="#1f5a98" opacity="1"/>
<rect x="826.9" y="500.4" width="4.6" height="5.4" rx="1.2" fill="#3a8ad0" opacity="1"/>
<rect x="828.1" y="501.4" width="2.8" height="3.6" fill="#1f5a98" opacity="1"/>
<rect x="872.3" y="500.4" width="4.6" height="5.4" rx="1.2" fill="#3a8ad0" opacity="1"/>
<rect x="873.5" y="501.4" width="2.8" height="3.6" fill="#1f5a98" opacity="1"/>
<rect x="893.2" y="500.4" width="4.6" height="5.4" rx="1.2" fill="#3a8ad0" opacity="1"/>
<rect x="894.4" y="501.4" width="2.8" height="3.6" fill="#1f5a98" opacity="1"/>
<rect x="913.3" y="500.4" width="4.6" height="5.4" rx="1.2" fill="#3a8ad0" opacity="1"/>
<rect x="914.5" y="501.4" width="2.8" height="3.6" fill="#1f5a98" opacity="1"/>
<rect x="988.4" y="500.4" width="4.6" height="5.4" rx="1.2" fill="#3a8ad0" opacity="1"/>
<rect x="989.6" y="501.4" width="2.8" height="3.6" fill="#1f5a98" opacity="1"/>
<rect x="1008.5" y="500.4" width="4.6" height="5.4" rx="1.2" fill="#3a8ad0" opacity="1"/>
<rect x="1009.7" y="501.4" width="2.8" height="3.6" fill="#1f5a98" opacity="1"/>
</g>
<text x="17.5" y="507.8" font-size="5.6" fill="#222" textLength="81" lengthAdjust="spacingAndGlyphs">ProRealTime Trading - Tempo Reale</text>
<rect x="18.2" y="545.75" width="3.8" height="4.45" fill="#d2d2d2"/>
<rect x="23.23" y="544" width="3.8" height="6.2" fill="#2040c4"/>
<rect x="28.25" y="543.4" width="3.8" height="6.8" fill="#2040c4"/>
<rect x="33.28" y="541" width="3.8" height="9.2" fill="#2040c4"/>
<rect x="38.31" y="538.8" width="3.8" height="11.4" fill="#2040c4"/>
<rect x="43.34" y="543.1" width="3.8" height="7.1" fill="#2040c4"/>
<rect x="48.36" y="544.3" width="3.8" height="5.9" fill="#2040c4"/>
<rect x="53.39" y="545.4" width="3.8" height="4.8" fill="#d2d2d2"/>
<rect x="58.42" y="546.4" width="3.8" height="3.8" fill="#d2d2d2"/>
<rect x="63.44" y="545.24" width="3.8" height="4.96" fill="#d2d2d2"/>
<rect x="68.47" y="546.17" width="3.8" height="4.03" fill="#d2d2d2"/>
<rect x="73.5" y="545.83" width="3.8" height="4.37" fill="#d2d2d2"/>
<rect x="78.52" y="545.22" width="3.8" height="4.98" fill="#d2d2d2"/>
<rect x="83.55" y="546.11" width="3.8" height="4.09" fill="#d2d2d2"/>
<rect x="88.58" y="545.17" width="3.8" height="5.03" fill="#d2d2d2"/>
<rect x="93.6" y="545.97" width="3.8" height="4.23" fill="#d2d2d2"/>
<rect x="98.63" y="545.24" width="3.8" height="4.96" fill="#d2d2d2"/>
<rect x="103.66" y="545.28" width="3.8" height="4.92" fill="#d2d2d2"/>
<rect x="108.69" y="545.95" width="3.8" height="4.25" fill="#d2d2d2"/>
<rect x="113.71" y="546.75" width="3.8" height="3.45" fill="#d2d2d2"/>
<rect x="118.74" y="545.35" width="3.8" height="4.85" fill="#d2d2d2"/>
<rect x="123.77" y="545.55" width="3.8" height="4.65" fill="#d2d2d2"/>
<rect x="128.79" y="546.35" width="3.8" height="3.85" fill="#d2d2d2"/>
<rect x="133.82" y="547" width="3.8" height="3.2" fill="#d2d2d2"/>
<rect x="138.85" y="546.25" width="3.8" height="3.95" fill="#d2d2d2"/>
<rect x="143.88" y="545.89" width="3.8" height="4.31" fill="#d2d2d2"/>
<rect x="148.9" y="547.05" width="3.8" height="3.15" fill="#d2d2d2"/>
<rect x="153.93" y="545.19" width="3.8" height="5.01" fill="#d2d2d2"/>
<rect x="158.96" y="546.82" width="3.8" height="3.38" fill="#d2d2d2"/>
<rect x="163.98" y="545.68" width="3.8" height="4.52" fill="#d2d2d2"/>
<rect x="169.01" y="545.39" width="3.8" height="4.81" fill="#d2d2d2"/>
<rect x="174.04" y="545.34" width="3.8" height="4.86" fill="#d2d2d2"/>
<rect x="179.06" y="545.72" width="3.8" height="4.48" fill="#d2d2d2"/>
<rect x="184.09" y="546.73" width="3.8" height="3.47" fill="#d2d2d2"/>
<rect x="189.12" y="545.46" width="3.8" height="4.74" fill="#d2d2d2"/>
<rect x="194.14" y="546.26" width="3.8" height="3.94" fill="#d2d2d2"/>
<rect x="199.17" y="546.38" width="3.8" height="3.82" fill="#d2d2d2"/>
<rect x="204.2" y="545.84" width="3.8" height="4.36" fill="#d2d2d2"/>
<rect x="209.23" y="546.2" width="3.8" height="4" fill="#d2d2d2"/>
<rect x="214.25" y="545.23" width="3.8" height="4.97" fill="#d2d2d2"/>
<rect x="219.28" y="545.22" width="3.8" height="4.98" fill="#d2d2d2"/>
<rect x="224.31" y="545.51" width="3.8" height="4.69" fill="#d2d2d2"/>
<rect x="229.33" y="542.8" width="3.8" height="7.4" fill="#2040c4"/>
<rect x="234.36" y="546.46" width="3.8" height="3.74" fill="#d2d2d2"/>
<rect x="239.39" y="545.96" width="3.8" height="4.24" fill="#d2d2d2"/>
<rect x="244.41" y="545.73" width="3.8" height="4.47" fill="#d2d2d2"/>
<rect x="249.44" y="546.27" width="3.8" height="3.93" fill="#d2d2d2"/>
<rect x="254.47" y="546.01" width="3.8" height="4.19" fill="#d2d2d2"/>
<rect x="259.5" y="545.7" width="3.8" height="4.5" fill="#d2d2d2"/>
<rect x="264.52" y="546.69" width="3.8" height="3.51" fill="#d2d2d2"/>
<rect x="269.55" y="546.5" width="3.8" height="3.7" fill="#d2d2d2"/>
<rect x="274.58" y="545.59" width="3.8" height="4.61" fill="#d2d2d2"/>
<rect x="279.6" y="546.25" width="3.8" height="3.95" fill="#d2d2d2"/>
<rect x="284.63" y="546.15" width="3.8" height="4.05" fill="#d2d2d2"/>
<rect x="289.66" y="546.85" width="3.8" height="3.35" fill="#d2d2d2"/>
<rect x="294.69" y="546.56" width="3.8" height="3.64" fill="#d2d2d2"/>
<rect x="299.71" y="544.5" width="3.8" height="5.7" fill="#2040c4"/>
<rect x="304.74" y="542" width="3.8" height="8.2" fill="#2040c4"/>
<rect x="309.77" y="544.5" width="3.8" height="5.7" fill="#2040c4"/>
<rect x="314.79" y="532.5" width="3.8" height="17.7" fill="#2040c4"/>
<rect x="319.82" y="545.68" width="3.8" height="4.52" fill="#d2d2d2"/>
<rect x="324.85" y="543.3" width="3.8" height="6.9" fill="#2040c4"/>
<rect x="329.87" y="540.4" width="3.8" height="9.8" fill="#2040c4"/>
<rect x="334.9" y="536.3" width="3.8" height="13.9" fill="#2040c4"/>
<rect x="339.93" y="541.1" width="3.8" height="9.1" fill="#2040c4"/>
<rect x="344.96" y="543.5" width="3.8" height="6.7" fill="#2040c4"/>
<rect x="349.98" y="548.6" width="3.8" height="1.6" fill="#d2d2d2"/>
<rect x="355.01" y="547.06" width="3.8" height="3.14" fill="#d2d2d2"/>
<rect x="360.04" y="545.34" width="3.8" height="4.86" fill="#d2d2d2"/>
<rect x="365.06" y="545.94" width="3.8" height="4.26" fill="#d2d2d2"/>
<rect x="370.09" y="546.61" width="3.8" height="3.59" fill="#d2d2d2"/>
<rect x="375.12" y="545.4" width="3.8" height="4.8" fill="#d2d2d2"/>
<rect x="380.14" y="546.08" width="3.8" height="4.12" fill="#d2d2d2"/>
<rect x="385.17" y="545.18" width="3.8" height="5.02" fill="#d2d2d2"/>
<rect x="390.2" y="546.44" width="3.8" height="3.76" fill="#d2d2d2"/>
<rect x="395.23" y="539.9" width="3.8" height="10.3" fill="#2040c4"/>
<rect x="400.25" y="546.63" width="3.8" height="3.57" fill="#d2d2d2"/>
<rect x="405.28" y="546.25" width="3.8" height="3.95" fill="#d2d2d2"/>
<rect x="410.31" y="546.85" width="3.8" height="3.35" fill="#d2d2d2"/>
<rect x="415.33" y="545.73" width="3.8" height="4.47" fill="#d2d2d2"/>
<rect x="420.36" y="546.49" width="3.8" height="3.71" fill="#d2d2d2"/>
<rect x="425.39" y="546.29" width="3.8" height="3.91" fill="#d2d2d2"/>
<rect x="430.41" y="546.26" width="3.8" height="3.94" fill="#d2d2d2"/>
<rect x="435.44" y="546.01" width="3.8" height="4.19" fill="#d2d2d2"/>
<rect x="440.47" y="546.78" width="3.8" height="3.42" fill="#d2d2d2"/>
<rect x="445.5" y="546.99" width="3.8" height="3.21" fill="#d2d2d2"/>
<rect x="450.52" y="546.05" width="3.8" height="4.15" fill="#d2d2d2"/>
<rect x="455.55" y="546.43" width="3.8" height="3.77" fill="#d2d2d2"/>
<rect x="460.58" y="545.22" width="3.8" height="4.98" fill="#d2d2d2"/>
<rect x="465.6" y="546.5" width="3.8" height="3.7" fill="#d2d2d2"/>
<rect x="470.63" y="546.39" width="3.8" height="3.81" fill="#d2d2d2"/>
<rect x="475.66" y="547.09" width="3.8" height="3.11" fill="#d2d2d2"/>
<rect x="480.68" y="546.74" width="3.8" height="3.46" fill="#d2d2d2"/>
<rect x="485.71" y="545.67" width="3.8" height="4.53" fill="#d2d2d2"/>
<rect x="490.74" y="545.87" width="3.8" height="4.33" fill="#d2d2d2"/>
<rect x="495.77" y="546.44" width="3.8" height="3.76" fill="#d2d2d2"/>
<rect x="500.79" y="545.15" width="3.8" height="5.05" fill="#d2d2d2"/>
<rect x="505.82" y="546.02" width="3.8" height="4.18" fill="#d2d2d2"/>
<rect x="510.85" y="545.44" width="3.8" height="4.76" fill="#d2d2d2"/>
<rect x="515.87" y="545.33" width="3.8" height="4.87" fill="#d2d2d2"/>
<rect x="520.9" y="545.22" width="3.8" height="4.98" fill="#d2d2d2"/>
<rect x="525.93" y="546.64" width="3.8" height="3.56" fill="#d2d2d2"/>
<rect x="530.95" y="545.36" width="3.8" height="4.84" fill="#d2d2d2"/>
<rect x="535.98" y="545.6" width="3.8" height="4.6" fill="#d2d2d2"/>
<rect x="541.01" y="545.88" width="3.8" height="4.32" fill="#d2d2d2"/>
<rect x="546.04" y="546.84" width="3.8" height="3.36" fill="#d2d2d2"/>
<rect x="551.06" y="545.26" width="3.8" height="4.94" fill="#d2d2d2"/>
<rect x="556.09" y="546" width="3.8" height="4.2" fill="#d2d2d2"/>
<rect x="561.12" y="546.2" width="3.8" height="4" fill="#d2d2d2"/>
<rect x="566.14" y="546.87" width="3.8" height="3.33" fill="#d2d2d2"/>
<rect x="571.17" y="546.74" width="3.8" height="3.46" fill="#d2d2d2"/>
<rect x="576.2" y="546.83" width="3.8" height="3.37" fill="#d2d2d2"/>
<rect x="581.22" y="545.66" width="3.8" height="4.54" fill="#d2d2d2"/>
<rect x="586.25" y="545.93" width="3.8" height="4.27" fill="#d2d2d2"/>
<rect x="591.28" y="545.82" width="3.8" height="4.38" fill="#d2d2d2"/>
<rect x="596.31" y="546.87" width="3.8" height="3.33" fill="#d2d2d2"/>
<rect x="601.33" y="547.02" width="3.8" height="3.18" fill="#d2d2d2"/>
<rect x="606.36" y="545.4" width="3.8" height="4.8" fill="#d2d2d2"/>
<rect x="611.39" y="545.45" width="3.8" height="4.75" fill="#d2d2d2"/>
<rect x="616.41" y="545.56" width="3.8" height="4.64" fill="#d2d2d2"/>
<rect x="621.44" y="545.57" width="3.8" height="4.63" fill="#d2d2d2"/>
<rect x="626.47" y="545.2" width="3.8" height="5" fill="#2040c4"/>
<rect x="631.49" y="541.1" width="3.8" height="9.1" fill="#2040c4"/>
<rect x="636.52" y="546.07" width="3.8" height="4.13" fill="#d2d2d2"/>
<rect x="641.55" y="546.28" width="3.8" height="3.92" fill="#d2d2d2"/>
<rect x="646.58" y="545.2" width="3.8" height="5" fill="#2040c4"/>
<rect x="651.6" y="545.63" width="3.8" height="4.57" fill="#d2d2d2"/>
<rect x="656.63" y="543.5" width="3.8" height="6.7" fill="#2040c4"/>
<rect x="661.66" y="543.5" width="3.8" height="6.7" fill="#2040c4"/>
<rect x="666.68" y="530.3" width="3.8" height="19.9" fill="#2040c4"/>
<rect x="671.71" y="539.9" width="3.8" height="10.3" fill="#2040c4"/>
<rect x="676.74" y="545.11" width="3.8" height="5.09" fill="#d2d2d2"/>
<rect x="681.76" y="544.2" width="3.8" height="6" fill="#2040c4"/>
<rect x="686.79" y="544.2" width="3.8" height="6" fill="#2040c4"/>
<rect x="691.82" y="545.94" width="3.8" height="4.26" fill="#d2d2d2"/>
<rect x="696.85" y="545.84" width="3.8" height="4.36" fill="#d2d2d2"/>
<rect x="701.87" y="546.23" width="3.8" height="3.97" fill="#d2d2d2"/>
<rect x="706.9" y="547.01" width="3.8" height="3.19" fill="#d2d2d2"/>
<rect x="711.93" y="546.48" width="3.8" height="3.72" fill="#d2d2d2"/>
<rect x="716.95" y="544.2" width="3.8" height="6" fill="#2040c4"/>
<rect x="721.98" y="546.13" width="3.8" height="4.07" fill="#d2d2d2"/>
<rect x="727.01" y="546.34" width="3.8" height="3.86" fill="#d2d2d2"/>
<rect x="732.03" y="546.45" width="3.8" height="3.75" fill="#d2d2d2"/>
<rect x="737.06" y="545.21" width="3.8" height="4.99" fill="#d2d2d2"/>
<rect x="742.09" y="546.9" width="3.8" height="3.3" fill="#d2d2d2"/>
<rect x="747.12" y="546.66" width="3.8" height="3.54" fill="#d2d2d2"/>
<rect x="752.14" y="546.85" width="3.8" height="3.35" fill="#d2d2d2"/>
<rect x="757.17" y="546.7" width="3.8" height="3.5" fill="#d2d2d2"/>
<rect x="762.2" y="545.88" width="3.8" height="4.32" fill="#d2d2d2"/>
<rect x="767.22" y="545.9" width="3.8" height="4.3" fill="#d2d2d2"/>
<rect x="772.25" y="543.5" width="3.8" height="6.7" fill="#2040c4"/>
<rect x="777.28" y="545.31" width="3.8" height="4.89" fill="#d2d2d2"/>
<rect x="782.3" y="546.37" width="3.8" height="3.83" fill="#d2d2d2"/>
<rect x="787.33" y="545.22" width="3.8" height="4.98" fill="#d2d2d2"/>
<rect x="792.36" y="545.23" width="3.8" height="4.97" fill="#d2d2d2"/>
<rect x="797.39" y="541.1" width="3.8" height="9.1" fill="#2040c4"/>
<rect x="802.41" y="543.5" width="3.8" height="6.7" fill="#2040c4"/>
<rect x="807.44" y="545.52" width="3.8" height="4.68" fill="#d2d2d2"/>
<rect x="812.47" y="545.42" width="3.8" height="4.78" fill="#d2d2d2"/>
<rect x="817.49" y="545.78" width="3.8" height="4.42" fill="#d2d2d2"/>
<rect x="822.52" y="543.5" width="3.8" height="6.7" fill="#2040c4"/>
<rect x="827.55" y="545.21" width="3.8" height="4.99" fill="#d2d2d2"/>
<rect x="832.57" y="545.1" width="3.8" height="5.1" fill="#d2d2d2"/>
<rect x="837.6" y="545.4" width="3.8" height="4.8" fill="#d2d2d2"/>
<rect x="842.63" y="545.3" width="3.8" height="4.9" fill="#d2d2d2"/>
<rect x="847.66" y="545.83" width="3.8" height="4.37" fill="#d2d2d2"/>
<rect x="852.68" y="545.15" width="3.8" height="5.05" fill="#d2d2d2"/>
<rect x="857.71" y="546.85" width="3.8" height="3.35" fill="#d2d2d2"/>
<rect x="862.74" y="543" width="3.8" height="7.2" fill="#2040c4"/>
<rect x="867.76" y="546.33" width="3.8" height="3.87" fill="#d2d2d2"/>
<rect x="872.79" y="545.4" width="3.8" height="4.8" fill="#d2d2d2"/>
<rect x="877.82" y="548.3" width="3.8" height="1.9" fill="#d2d2d2"/>
<rect x="882.84" y="545.6" width="3.8" height="4.6" fill="#d2d2d2"/>
<rect x="887.87" y="541.8" width="3.8" height="8.4" fill="#2040c4"/>
<rect x="892.9" y="545.79" width="3.8" height="4.41" fill="#d2d2d2"/>
<rect x="897.93" y="545.83" width="3.8" height="4.37" fill="#d2d2d2"/>
<rect x="902.95" y="545.35" width="3.8" height="4.85" fill="#d2d2d2"/>
<rect x="907.98" y="546.8" width="3.8" height="3.4" fill="#d2d2d2"/>
<rect x="913.01" y="547.09" width="3.8" height="3.11" fill="#d2d2d2"/>
<rect x="918.03" y="546.03" width="3.8" height="4.17" fill="#d2d2d2"/>
<rect x="923.06" y="546.07" width="3.8" height="4.13" fill="#d2d2d2"/>
<rect x="928.09" y="545.27" width="3.8" height="4.93" fill="#d2d2d2"/>
<rect x="933.11" y="545.3" width="3.8" height="4.9" fill="#d2d2d2"/>
<rect x="938.14" y="545.79" width="3.8" height="4.41" fill="#d2d2d2"/>
<rect x="943.17" y="545.63" width="3.8" height="4.57" fill="#d2d2d2"/>
<rect x="948.2" y="542.3" width="3.8" height="7.9" fill="#2040c4"/>
<rect x="953.22" y="516" width="3.8" height="34.2" fill="#2040c4"/>
<rect x="958.25" y="546.76" width="3.8" height="3.44" fill="#d2d2d2"/>
<rect x="963.28" y="548.6" width="3.8" height="1.6" fill="#d2d2d2"/>
<rect x="968.3" y="545.42" width="3.8" height="4.78" fill="#d2d2d2"/>
<rect x="973.33" y="545.15" width="3.8" height="5.05" fill="#d2d2d2"/>
<rect x="978.36" y="547" width="3.8" height="3.2" fill="#d2d2d2"/>
<rect x="983.38" y="546.16" width="3.8" height="4.04" fill="#d2d2d2"/>
<rect x="988.41" y="545.39" width="3.8" height="4.81" fill="#d2d2d2"/>
<rect x="993.44" y="546.19" width="3.8" height="4.01" fill="#d2d2d2"/>
<rect x="998.47" y="538.7" width="3.8" height="11.5" fill="#2040c4"/>
<rect x="1003.49" y="536.3" width="3.8" height="13.9" fill="#2040c4"/>
<rect x="1008.52" y="539.9" width="3.8" height="10.3" fill="#2040c4"/>
<polyline points="20.1,545.89 25.13,545.83 30.15,545.75 35.18,545.58 40.21,545.35 45.23,545.25 50.26,545.2 55.29,545.18 60.32,545.2 65.34,545.18 70.37,545.19 75.4,545.19 80.42,545.16 85.45,545.17 90.48,545.15 95.5,545.15 100.53,545.13 105.56,545.11 110.59,545.11 115.61,545.14 120.64,545.12 125.67,545.11 130.69,545.12 135.72,545.16 140.75,545.17 145.78,545.17 150.8,545.21 155.83,545.18 160.86,545.22 165.88,545.21 170.91,545.2 175.94,545.24 180.96,545.32 185.99,545.51 191.02,545.73 196.04,545.84 201.07,545.91 206.1,545.92 211.13,545.91 216.15,545.91 221.18,545.88 226.21,545.87 231.23,545.79 236.26,545.8 241.29,545.83 246.31,545.82 251.34,545.85 256.37,545.88 261.4,545.87 266.42,545.87 271.45,545.91 276.48,545.91 281.5,545.9 286.53,545.88 291.56,545.9 296.59,545.92 301.61,545.83 306.64,545.73 311.67,545.65 316.69,545.21 321.72,545.22 326.75,545.15 331.77,544.97 336.8,544.63 341.83,544.48 346.86,544.39 351.88,544.46 356.91,544.5 361.94,544.47 366.96,544.5 371.99,544.54 377.02,544.54 382.04,544.65 387.07,544.61 392.1,544.62 397.13,544.43 402.15,544.44 407.18,544.45 412.21,544.49 417.23,544.46 422.26,544.46 427.29,544.48 432.31,544.48 437.34,544.47 442.37,544.47 447.4,544.49 452.42,544.54 457.45,544.69 462.48,544.71 467.5,545.18 472.53,545.2 477.56,545.33 482.58,545.54 487.61,545.85 492.64,546.01 497.67,546.11 502.69,545.99 507.72,545.96 512.75,545.96 517.77,545.94 522.8,545.89 527.83,545.94 532.85,545.91 537.88,545.93 542.91,545.91 547.94,546.14 552.96,546.09 557.99,546.08 563.02,546.06 568.04,546.1 573.07,546.11 578.1,546.13 583.12,546.11 588.15,546.1 593.18,546.07 598.21,546.07 603.23,546.1 608.26,546.07 613.29,546.07 618.31,546.04 623.34,546.01 628.37,545.95 633.39,545.76 638.42,545.78 643.45,545.79 648.48,545.75 653.5,545.77 658.53,545.68 663.56,545.62 668.58,545.12 673.61,544.94 678.64,544.89 683.66,544.85 688.69,544.8 693.72,544.8 698.75,544.77 703.77,544.8 708.8,544.84 713.83,544.85 718.85,544.76 723.88,544.74 728.91,544.72 733.93,544.75 738.96,544.72 743.99,544.76 749.01,544.75 754.04,544.75 759.07,544.79 764.1,544.8 769.12,544.82 774.15,544.75 779.18,544.75 784.2,544.93 789.23,544.9 794.26,544.86 799.29,544.73 804.31,544.66 809.34,544.72 814.37,544.79 819.39,545.3 824.42,545.42 829.45,545.43 834.47,545.46 839.5,545.5 844.53,545.47 849.56,545.47 854.58,545.44 859.61,545.43 864.64,545.32 869.66,545.39 874.69,545.36 879.72,545.43 884.74,545.4 889.77,545.29 894.8,545.25 899.83,545.22 904.85,545.17 909.88,545.18 914.91,545.22 919.93,545.22 924.96,545.31 929.99,545.3 935.01,545.27 940.04,545.29 945.07,545.3 950.1,545.34 955.12,544.42 960.15,544.47 965.18,544.57 970.2,544.56 975.23,544.61 980.26,544.67 985.28,544.71 990.31,544.71 995.34,544.74 1000.37,544.5 1005.39,544.21 1010.42,543.97" fill="none" stroke="#f0a030" stroke-width="0.9" stroke-dasharray="1.5 2.5"/>
<rect x="18.2" y="591.3" width="3.8" height="7.3" fill="#d2d2d2"/>
<rect x="23.23" y="594.2" width="3.8" height="4.4" fill="#d2d2d2"/>
<rect x="28.25" y="589.1" width="3.8" height="9.5" fill="#2040c4"/>
<rect x="33.28" y="591.3" width="3.8" height="7.3" fill="#d2d2d2"/>
<rect x="38.31" y="574" width="3.8" height="24.6" fill="#2040c4"/>
<rect x="43.34" y="580" width="3.8" height="18.6" fill="#2040c4"/>
<rect x="48.36" y="586.9" width="3.8" height="11.7" fill="#d2d2d2"/>
<rect x="53.39" y="588.8" width="3.8" height="9.8" fill="#d2d2d2"/>
<rect x="58.42" y="590" width="3.8" height="8.6" fill="#d2d2d2"/>
<rect x="63.44" y="588.8" width="3.8" height="9.8" fill="#d2d2d2"/>
<rect x="68.47" y="590" width="3.8" height="8.6" fill="#d2d2d2"/>
<rect x="73.5" y="586.9" width="3.8" height="11.7" fill="#d2d2d2"/>
<rect x="78.52" y="581" width="3.8" height="17.6" fill="#2040c4"/>
<rect x="83.55" y="593" width="3.8" height="5.6" fill="#ff2fd0"/>
<rect x="88.58" y="587.9" width="3.8" height="10.7" fill="#d2d2d2"/>
<rect x="93.6" y="588.2" width="3.8" height="10.4" fill="#d2d2d2"/>
<rect x="98.63" y="590.5" width="3.8" height="8.1" fill="#d2d2d2"/>
<rect x="103.66" y="589.1" width="3.8" height="9.5" fill="#d2d2d2"/>
<rect x="108.69" y="590.5" width="3.8" height="8.1" fill="#d2d2d2"/>
<rect x="113.71" y="587.9" width="3.8" height="10.7" fill="#d2d2d2"/>
<rect x="118.74" y="588.8" width="3.8" height="9.8" fill="#d2d2d2"/>
<rect x="123.77" y="592.5" width="3.8" height="6.1" fill="#ff2fd0"/>
<rect x="128.79" y="590.5" width="3.8" height="8.1" fill="#d2d2d2"/>
<rect x="133.82" y="586.5" width="3.8" height="12.1" fill="#2040c4"/>
<rect x="138.85" y="589.1" width="3.8" height="9.5" fill="#d2d2d2"/>
<rect x="143.88" y="587.4" width="3.8" height="11.2" fill="#d2d2d2"/>
<rect x="148.9" y="591.7" width="3.8" height="6.9" fill="#d2d2d2"/>
<rect x="153.93" y="591.7" width="3.8" height="6.9" fill="#d2d2d2"/>
<rect x="158.96" y="593" width="3.8" height="5.6" fill="#d2d2d2"/>
<rect x="163.98" y="590" width="3.8" height="8.6" fill="#d2d2d2"/>
<rect x="169.01" y="587.4" width="3.8" height="11.2" fill="#2040c4"/>
<rect x="174.04" y="590.8" width="3.8" height="7.8" fill="#d2d2d2"/>
<rect x="179.06" y="588.2" width="3.8" height="10.4" fill="#d2d2d2"/>
<rect x="184.09" y="593.4" width="3.8" height="5.2" fill="#ff2fd0"/>
<rect x="189.12" y="575.9" width="3.8" height="22.7" fill="#2040c4"/>
<rect x="194.14" y="590.8" width="3.8" height="7.8" fill="#d2d2d2"/>
<rect x="199.17" y="579.7" width="3.8" height="18.9" fill="#2040c4"/>
<rect x="204.2" y="588.4" width="3.8" height="10.2" fill="#d2d2d2"/>
<rect x="209.23" y="590.5" width="3.8" height="8.1" fill="#d2d2d2"/>
<rect x="214.25" y="590.5" width="3.8" height="8.1" fill="#d2d2d2"/>
<rect x="219.28" y="589.1" width="3.8" height="9.5" fill="#d2d2d2"/>
<rect x="224.31" y="590.5" width="3.8" height="8.1" fill="#d2d2d2"/>
<rect x="229.33" y="576.3" width="3.8" height="22.3" fill="#2040c4"/>
<rect x="234.36" y="590" width="3.8" height="8.6" fill="#d2d2d2"/>
<rect x="239.39" y="588.8" width="3.8" height="9.8" fill="#d2d2d2"/>
<rect x="244.41" y="584" width="3.8" height="14.6" fill="#d2d2d2"/>
<rect x="249.44" y="571.1" width="3.8" height="27.5" fill="#2040c4"/>
<rect x="254.47" y="585.7" width="3.8" height="12.9" fill="#d2d2d2"/>
<rect x="259.5" y="585.7" width="3.8" height="12.9" fill="#d2d2d2"/>
<rect x="264.52" y="585.7" width="3.8" height="12.9" fill="#d2d2d2"/>
<rect x="269.55" y="591.7" width="3.8" height="6.9" fill="#ff2fd0"/>
<rect x="274.58" y="587.9" width="3.8" height="10.7" fill="#d2d2d2"/>
<rect x="279.6" y="591.7" width="3.8" height="6.9" fill="#ff2fd0"/>
<rect x="284.63" y="586.2" width="3.8" height="12.4" fill="#d2d2d2"/>
<rect x="289.66" y="586.2" width="3.8" height="12.4" fill="#d2d2d2"/>
<rect x="294.69" y="585.7" width="3.8" height="12.9" fill="#d2d2d2"/>
<rect x="299.71" y="580.9" width="3.8" height="17.7" fill="#2040c4"/>
<rect x="304.74" y="585.2" width="3.8" height="13.4" fill="#d2d2d2"/>
<rect x="309.77" y="585.3" width="3.8" height="13.3" fill="#d2d2d2"/>
<rect x="314.79" y="580" width="3.8" height="18.6" fill="#2040c4"/>
<rect x="319.82" y="590" width="3.8" height="8.6" fill="#d2d2d2"/>
<rect x="324.85" y="587.4" width="3.8" height="11.2" fill="#d2d2d2"/>
<rect x="329.87" y="576.3" width="3.8" height="22.3" fill="#2040c4"/>
<rect x="334.9" y="573.2" width="3.8" height="25.4" fill="#2040c4"/>
<rect x="339.93" y="586.5" width="3.8" height="12.1" fill="#d2d2d2"/>
<rect x="344.96" y="590" width="3.8" height="8.6" fill="#ff2fd0"/>
<rect x="349.98" y="591.2" width="3.8" height="7.4" fill="#ff2fd0"/>
<rect x="355.01" y="592.9" width="3.8" height="5.7" fill="#ff2fd0"/>
<rect x="360.04" y="588.2" width="3.8" height="10.4" fill="#d2d2d2"/>
<rect x="365.06" y="587.9" width="3.8" height="10.7" fill="#d2d2d2"/>
<rect x="370.09" y="593" width="3.8" height="5.6" fill="#ff2fd0"/>
<rect x="375.12" y="590" width="3.8" height="8.6" fill="#d2d2d2"/>
<rect x="380.14" y="588.2" width="3.8" height="10.4" fill="#d2d2d2"/>
<rect x="385.17" y="590" width="3.8" height="8.6" fill="#d2d2d2"/>
<rect x="390.2" y="581.9" width="3.8" height="16.7" fill="#2040c4"/>
<rect x="395.23" y="563.4" width="3.8" height="35.2" fill="#2040c4"/>
<rect x="400.25" y="585.7" width="3.8" height="12.9" fill="#d2d2d2"/>
<rect x="405.28" y="585.7" width="3.8" height="12.9" fill="#d2d2d2"/>
<rect x="410.31" y="587.7" width="3.8" height="10.9" fill="#d2d2d2"/>
<rect x="415.33" y="587.7" width="3.8" height="10.9" fill="#d2d2d2"/>
<rect x="420.36" y="590" width="3.8" height="8.6" fill="#ff2fd0"/>
<rect x="425.39" y="577.1" width="3.8" height="21.5" fill="#2040c4"/>
<rect x="430.41" y="582.3" width="3.8" height="16.3" fill="#d2d2d2"/>
<rect x="435.44" y="587.4" width="3.8" height="11.2" fill="#d2d2d2"/>
<rect x="440.47" y="592.5" width="3.8" height="6.1" fill="#ff2fd0"/>
<rect x="445.5" y="589.1" width="3.8" height="9.5" fill="#d2d2d2"/>
<rect x="450.52" y="585.3" width="3.8" height="13.3" fill="#d2d2d2"/>
<rect x="455.55" y="572.8" width="3.8" height="25.8" fill="#2040c4"/>
<rect x="460.58" y="585.2" width="3.8" height="13.4" fill="#d2d2d2"/>
<rect x="465.6" y="581.4" width="3.8" height="17.2" fill="#d2d2d2"/>
<rect x="470.63" y="590" width="3.8" height="8.6" fill="#ff2fd0"/>
<rect x="475.66" y="585.7" width="3.8" height="12.9" fill="#d2d2d2"/>
<rect x="480.68" y="589.6" width="3.8" height="9" fill="#d2d2d2"/>
<rect x="485.71" y="590" width="3.8" height="8.6" fill="#d2d2d2"/>
<rect x="490.74" y="592" width="3.8" height="6.6" fill="#ff2fd0"/>
<rect x="495.77" y="587.4" width="3.8" height="11.2" fill="#d2d2d2"/>
<rect x="500.79" y="589.1" width="3.8" height="9.5" fill="#d2d2d2"/>
<rect x="505.82" y="590.8" width="3.8" height="7.8" fill="#d2d2d2"/>
<rect x="510.85" y="590.5" width="3.8" height="8.1" fill="#d2d2d2"/>
<rect x="515.87" y="593" width="3.8" height="5.6" fill="#d2d2d2"/>
<rect x="520.9" y="593.4" width="3.8" height="5.2" fill="#ff2fd0"/>
<rect x="525.93" y="590" width="3.8" height="8.6" fill="#d2d2d2"/>
<rect x="530.95" y="591.3" width="3.8" height="7.3" fill="#d2d2d2"/>
<rect x="535.98" y="583.5" width="3.8" height="15.1" fill="#2040c4"/>
<rect x="541.01" y="590" width="3.8" height="8.6" fill="#d2d2d2"/>
<rect x="546.04" y="590.8" width="3.8" height="7.8" fill="#d2d2d2"/>
<rect x="551.06" y="589.6" width="3.8" height="9" fill="#d2d2d2"/>
<rect x="556.09" y="587" width="3.8" height="11.6" fill="#2040c4"/>
<rect x="561.12" y="585.3" width="3.8" height="13.3" fill="#2040c4"/>
<rect x="566.14" y="584" width="3.8" height="14.6" fill="#2040c4"/>
<rect x="571.17" y="590.5" width="3.8" height="8.1" fill="#d2d2d2"/>
<rect x="576.2" y="585.2" width="3.8" height="13.4" fill="#d2d2d2"/>
<rect x="581.22" y="589.1" width="3.8" height="9.5" fill="#d2d2d2"/>
<rect x="586.25" y="587" width="3.8" height="11.6" fill="#d2d2d2"/>
<rect x="591.28" y="590.8" width="3.8" height="7.8" fill="#d2d2d2"/>
<rect x="596.31" y="587.4" width="3.8" height="11.2" fill="#d2d2d2"/>
<rect x="601.33" y="584.3" width="3.8" height="14.3" fill="#2040c4"/>
<rect x="606.36" y="581.4" width="3.8" height="17.2" fill="#2040c4"/>
<rect x="611.39" y="588.2" width="3.8" height="10.4" fill="#d2d2d2"/>
<rect x="616.41" y="590" width="3.8" height="8.6" fill="#d2d2d2"/>
<rect x="621.44" y="581.9" width="3.8" height="16.7" fill="#2040c4"/>
<rect x="626.47" y="588.8" width="3.8" height="9.8" fill="#d2d2d2"/>
<rect x="631.49" y="572" width="3.8" height="26.6" fill="#2040c4"/>
<rect x="636.52" y="588.8" width="3.8" height="9.8" fill="#d2d2d2"/>
<rect x="641.55" y="592" width="3.8" height="6.6" fill="#ff2fd0"/>
<rect x="646.58" y="588.8" width="3.8" height="9.8" fill="#d2d2d2"/>
<rect x="651.6" y="586.5" width="3.8" height="12.1" fill="#d2d2d2"/>
<rect x="656.63" y="588.2" width="3.8" height="10.4" fill="#d2d2d2"/>
<rect x="661.66" y="581.9" width="3.8" height="16.7" fill="#2040c4"/>
<rect x="666.68" y="566.3" width="3.8" height="32.3" fill="#2040c4"/>
<rect x="671.71" y="584.8" width="3.8" height="13.8" fill="#d2d2d2"/>
<rect x="676.74" y="589.1" width="3.8" height="9.5" fill="#ff2fd0"/>
<rect x="681.76" y="586.5" width="3.8" height="12.1" fill="#d2d2d2"/>
<rect x="686.79" y="584" width="3.8" height="14.6" fill="#d2d2d2"/>
<rect x="691.82" y="590" width="3.8" height="8.6" fill="#ff2fd0"/>
<rect x="696.85" y="590" width="3.8" height="8.6" fill="#ff2fd0"/>
<rect x="701.87" y="590.8" width="3.8" height="7.8" fill="#ff2fd0"/>
<rect x="706.9" y="587.4" width="3.8" height="11.2" fill="#d2d2d2"/>
<rect x="711.93" y="594.2" width="3.8" height="4.4" fill="#ff2fd0"/>
<rect x="716.95" y="584.3" width="3.8" height="14.3" fill="#2040c4"/>
<rect x="721.98" y="590" width="3.8" height="8.6" fill="#d2d2d2"/>
<rect x="727.01" y="590.5" width="3.8" height="8.1" fill="#d2d2d2"/>
<rect x="732.03" y="594.2" width="3.8" height="4.4" fill="#ff2fd0"/>
<rect x="737.06" y="587.4" width="3.8" height="11.2" fill="#2040c4"/>
<rect x="742.09" y="589.1" width="3.8" height="9.5" fill="#d2d2d2"/>
<rect x="747.12" y="590.5" width="3.8" height="8.1" fill="#d2d2d2"/>
<rect x="752.14" y="587.9" width="3.8" height="10.7" fill="#d2d2d2"/>
<rect x="757.17" y="590" width="3.8" height="8.6" fill="#d2d2d2"/>
<rect x="762.2" y="591.7" width="3.8" height="6.9" fill="#d2d2d2"/>
<rect x="767.22" y="591.7" width="3.8" height="6.9" fill="#d2d2d2"/>
<rect x="772.25" y="590" width="3.8" height="8.6" fill="#d2d2d2"/>
<rect x="777.28" y="587.9" width="3.8" height="10.7" fill="#2040c4"/>
<rect x="782.3" y="586.9" width="3.8" height="11.7" fill="#2040c4"/>
<rect x="787.33" y="589.1" width="3.8" height="9.5" fill="#d2d2d2"/>
<rect x="792.36" y="583.1" width="3.8" height="15.5" fill="#2040c4"/>
<rect x="797.39" y="572.8" width="3.8" height="25.8" fill="#2040c4"/>
<rect x="802.41" y="580.9" width="3.8" height="17.7" fill="#2040c4"/>
<rect x="807.44" y="586.5" width="3.8" height="12.1" fill="#d2d2d2"/>
<rect x="812.47" y="588.8" width="3.8" height="9.8" fill="#d2d2d2"/>
<rect x="817.49" y="589.1" width="3.8" height="9.5" fill="#d2d2d2"/>
<rect x="822.52" y="585.2" width="3.8" height="13.4" fill="#d2d2d2"/>
<rect x="827.55" y="586.2" width="3.8" height="12.4" fill="#d2d2d2"/>
<rect x="832.57" y="586.9" width="3.8" height="11.7" fill="#d2d2d2"/>
<rect x="837.6" y="590.8" width="3.8" height="7.8" fill="#ff2fd0"/>
<rect x="842.63" y="588.8" width="3.8" height="9.8" fill="#d2d2d2"/>
<rect x="847.66" y="590.8" width="3.8" height="7.8" fill="#d2d2d2"/>
<rect x="852.68" y="585.2" width="3.8" height="13.4" fill="#2040c4"/>
<rect x="857.71" y="586.2" width="3.8" height="12.4" fill="#d2d2d2"/>
<rect x="862.74" y="584.3" width="3.8" height="14.3" fill="#2040c4"/>
<rect x="867.76" y="587.9" width="3.8" height="10.7" fill="#d2d2d2"/>
<rect x="872.79" y="586" width="3.8" height="12.6" fill="#d2d2d2"/>
<rect x="877.82" y="590.8" width="3.8" height="7.8" fill="#d2d2d2"/>
<rect x="882.84" y="592" width="3.8" height="6.6" fill="#ff2fd0"/>
<rect x="887.87" y="587" width="3.8" height="11.6" fill="#d2d2d2"/>
<rect x="892.9" y="584" width="3.8" height="14.6" fill="#2040c4"/>
<rect x="897.93" y="585.7" width="3.8" height="12.9" fill="#d2d2d2"/>
<rect x="902.95" y="589.1" width="3.8" height="9.5" fill="#d2d2d2"/>
<rect x="907.98" y="590.5" width="3.8" height="8.1" fill="#d2d2d2"/>
<rect x="913.01" y="591.7" width="3.8" height="6.9" fill="#d2d2d2"/>
<rect x="918.03" y="586.5" width="3.8" height="12.1" fill="#d2d2d2"/>
<rect x="923.06" y="592" width="3.8" height="6.6" fill="#d2d2d2"/>
<rect x="928.09" y="587.4" width="3.8" height="11.2" fill="#d2d2d2"/>
<rect x="933.11" y="588.8" width="3.8" height="9.8" fill="#d2d2d2"/>
<rect x="938.14" y="586.2" width="3.8" height="12.4" fill="#d2d2d2"/>
<rect x="943.17" y="569.1" width="3.8" height="29.5" fill="#2040c4"/>
<rect x="948.2" y="584.1" width="3.8" height="14.5" fill="#d2d2d2"/>
<rect x="953.22" y="586.9" width="3.8" height="11.7" fill="#d2d2d2"/>
<rect x="958.25" y="590.9" width="3.8" height="7.7" fill="#ff2fd0"/>
<rect x="963.28" y="592.6" width="3.8" height="6" fill="#ff2fd0"/>
<rect x="968.3" y="592" width="3.8" height="6.6" fill="#ff2fd0"/>
<rect x="973.33" y="586.9" width="3.8" height="11.7" fill="#d2d2d2"/>
<rect x="978.36" y="589" width="3.8" height="9.6" fill="#d2d2d2"/>
<rect x="983.38" y="589.9" width="3.8" height="8.7" fill="#d2d2d2"/>
<rect x="988.41" y="587.8" width="3.8" height="10.8" fill="#d2d2d2"/>
<rect x="993.44" y="582.6" width="3.8" height="16" fill="#2040c4"/>
<rect x="998.47" y="586" width="3.8" height="12.6" fill="#2040c4"/>
<rect x="1003.49" y="586" width="3.8" height="12.6" fill="#2040c4"/>
<rect x="1008.52" y="569.8" width="3.8" height="28.8" fill="#2040c4"/>
<polyline points="20.1,591.3 25.13,592.75 30.15,591.53 35.18,591.48 40.21,587.98 45.23,586.65 50.26,586.69 55.29,586.95 60.32,587.29 65.34,587.44 70.37,587.31 75.4,586.58 80.42,585.77 85.45,585.94 90.48,587.33 95.5,588.15 100.53,588.51 105.56,588.54 110.59,588.59 115.61,588.5 120.64,588.38 125.67,588.94 130.69,589.89 135.72,589.24 140.75,589.36 145.78,589.28 150.8,589.4 155.83,589.66 160.86,589.91 165.88,590.12 170.91,589.98 175.94,589.81 180.96,589.58 185.99,590.27 191.02,588.95 196.04,589.29 201.07,588.09 206.1,587.76 211.13,587.51 216.15,587.56 221.18,587.73 226.21,587.7 231.23,586.51 236.26,586.17 241.29,587.46 246.31,586.78 251.34,585.92 256.37,585.65 261.4,585.17 266.42,584.69 271.45,584.95 276.48,584.69 281.5,586.23 286.53,585.85 291.56,585.59 296.59,585.76 301.61,586.74 306.64,586.69 311.67,586.65 316.69,586.08 321.72,585.91 326.75,585.86 331.77,584.32 336.8,583.02 341.83,583.05 346.86,583.48 351.88,584.51 356.91,585.28 361.94,585.57 366.96,586.36 371.99,586.66 377.02,586.92 382.04,588.11 387.07,589.79 392.1,589.33 397.13,586.67 402.15,586.12 407.18,585.4 412.21,585.35 417.23,585.33 422.26,585.03 427.29,583.74 432.31,583.15 437.34,582.89 442.37,583.95 447.4,586.52 452.42,586.48 457.45,585.19 462.48,584.94 467.5,584.31 472.53,584.31 477.56,585.17 482.58,585.9 487.61,586.16 492.64,586.11 497.67,585.94 502.69,586.32 507.72,588.12 512.75,588.65 517.77,589.81 522.8,590.15 527.83,590.58 532.85,590.75 537.88,590.1 542.91,589.9 547.94,590.24 552.96,590.29 557.99,589.91 563.02,589.39 568.04,588.49 573.07,588.2 578.1,587.72 583.12,587.5 588.15,587.85 593.18,587.93 598.21,587.59 603.23,587.06 608.26,586.5 613.29,586.79 618.31,587.39 623.34,586.53 628.37,586.89 633.39,585.18 638.42,585.36 643.45,585.48 648.48,585.62 653.5,585.84 658.53,586.52 663.56,585.89 668.58,583.52 673.61,583.81 678.64,583.84 683.66,585.29 688.69,584.81 693.72,584.61 698.75,584.73 703.77,585.16 708.8,585.08 713.83,586.31 718.85,588.11 723.88,588.63 728.91,588.77 733.93,589.54 738.96,589.88 743.99,589.79 749.01,589.84 754.04,589.55 759.07,589.81 764.1,589.56 769.12,590.3 774.15,590.3 779.18,590.04 784.2,589.31 789.23,589.48 794.26,588.88 799.29,587.11 804.31,586.41 809.34,586.06 814.37,585.77 819.39,585.51 824.42,585.03 829.45,584.86 834.47,584.86 839.5,585.03 844.53,585.6 849.56,587.4 854.58,587.83 859.61,587.8 864.64,587.35 869.66,587.23 874.69,587.31 879.72,587.77 884.74,588.28 889.77,587.9 894.8,587.42 899.83,586.91 904.85,587.3 909.88,587.73 914.91,588.47 919.93,588.33 924.96,588.93 929.99,588.59 935.01,588.27 940.04,588.19 945.07,586.7 950.1,586.54 955.12,586.32 960.15,586.36 965.18,586.45 970.2,587 975.23,586.49 980.26,586.65 985.28,586.76 990.31,586.92 995.34,588.27 1000.37,588.46 1005.39,588.37 1010.42,586.26" fill="none" stroke="#f0a030" stroke-width="0.9" stroke-dasharray="1.5 2.5"/>
<rect x="18.2" y="606.4" width="3.8" height="28.2" fill="#2040c4"/>
<rect x="23.23" y="607.3" width="3.8" height="27.3" fill="#2040c4"/>
<rect x="28.25" y="607.8" width="3.8" height="26.8" fill="#2040c4"/>
<rect x="33.28" y="610.2" width="3.8" height="24.4" fill="#2040c4"/>
<rect x="38.31" y="606.9" width="3.8" height="27.7" fill="#2040c4"/>
<rect x="43.34" y="606.9" width="3.8" height="27.7" fill="#2040c4"/>
<rect x="48.36" y="607.3" width="3.8" height="27.3" fill="#2040c4"/>
<rect x="53.39" y="607.3" width="3.8" height="27.3" fill="#2040c4"/>
<rect x="58.42" y="608.5" width="3.8" height="26.1" fill="#2040c4"/>
<rect x="63.44" y="609.2" width="3.8" height="25.4" fill="#2040c4"/>
<rect x="68.47" y="609.5" width="3.8" height="25.1" fill="#2040c4"/>
<rect x="73.5" y="610.4" width="3.8" height="24.2" fill="#2040c4"/>
<rect x="78.52" y="611" width="3.8" height="23.6" fill="#2040c4"/>
<rect x="83.55" y="611" width="3.8" height="23.6" fill="#2040c4"/>
<rect x="88.58" y="611.4" width="3.8" height="23.2" fill="#2040c4"/>
<rect x="93.6" y="612.1" width="3.8" height="22.5" fill="#d2d2d2"/>
<rect x="98.63" y="612.9" width="3.8" height="21.7" fill="#d2d2d2"/>
<rect x="103.66" y="613.3" width="3.8" height="21.3" fill="#d2d2d2"/>
<rect x="108.69" y="613.3" width="3.8" height="21.3" fill="#d2d2d2"/>
<rect x="113.71" y="613.8" width="3.8" height="20.8" fill="#d2d2d2"/>
<rect x="118.74" y="614.1" width="3.8" height="20.5" fill="#d2d2d2"/>
<rect x="123.77" y="614.6" width="3.8" height="20" fill="#d2d2d2"/>
<rect x="128.79" y="615" width="3.8" height="19.6" fill="#d2d2d2"/>
<rect x="133.82" y="615.3" width="3.8" height="19.3" fill="#d2d2d2"/>
<rect x="138.85" y="616.2" width="3.8" height="18.4" fill="#d2d2d2"/>
<rect x="143.88" y="616.3" width="3.8" height="18.3" fill="#d2d2d2"/>
<rect x="148.9" y="616.3" width="3.8" height="18.3" fill="#d2d2d2"/>
<rect x="153.93" y="614.6" width="3.8" height="20" fill="#d2d2d2"/>
<rect x="158.96" y="614.1" width="3.8" height="20.5" fill="#d2d2d2"/>
<rect x="163.98" y="613.6" width="3.8" height="21" fill="#d2d2d2"/>
<rect x="169.01" y="612.9" width="3.8" height="21.7" fill="#d2d2d2"/>
<rect x="174.04" y="612.9" width="3.8" height="21.7" fill="#d2d2d2"/>
<rect x="179.06" y="613.3" width="3.8" height="21.3" fill="#d2d2d2"/>
<rect x="184.09" y="614.5" width="3.8" height="20.1" fill="#d2d2d2"/>
<rect x="189.12" y="613.6" width="3.8" height="21" fill="#d2d2d2"/>
<rect x="194.14" y="613.6" width="3.8" height="21" fill="#d2d2d2"/>
<rect x="199.17" y="614.5" width="3.8" height="20.1" fill="#d2d2d2"/>
<rect x="204.2" y="615" width="3.8" height="19.6" fill="#d2d2d2"/>
<rect x="209.23" y="615" width="3.8" height="19.6" fill="#d2d2d2"/>
<rect x="214.25" y="615" width="3.8" height="19.6" fill="#d2d2d2"/>
<rect x="219.28" y="615" width="3.8" height="19.6" fill="#d2d2d2"/>
<rect x="224.31" y="615.3" width="3.8" height="19.3" fill="#d2d2d2"/>
<rect x="229.33" y="616.3" width="3.8" height="18.3" fill="#d2d2d2"/>
<rect x="234.36" y="617.9" width="3.8" height="16.7" fill="#d2d2d2"/>
<rect x="239.39" y="617.9" width="3.8" height="16.7" fill="#d2d2d2"/>
<rect x="244.41" y="617.9" width="3.8" height="16.7" fill="#d2d2d2"/>
<rect x="249.44" y="617.9" width="3.8" height="16.7" fill="#d2d2d2"/>
<rect x="254.47" y="618.4" width="3.8" height="16.2" fill="#d2d2d2"/>
<rect x="259.5" y="618.4" width="3.8" height="16.2" fill="#d2d2d2"/>
<rect x="264.52" y="618.9" width="3.8" height="15.7" fill="#d2d2d2"/>
<rect x="269.55" y="619.3" width="3.8" height="15.3" fill="#d2d2d2"/>
<rect x="274.58" y="619.8" width="3.8" height="14.8" fill="#d2d2d2"/>
<rect x="279.6" y="620.1" width="3.8" height="14.5" fill="#d2d2d2"/>
<rect x="284.63" y="619.6" width="3.8" height="15" fill="#d2d2d2"/>
<rect x="289.66" y="619.6" width="3.8" height="15" fill="#d2d2d2"/>
<rect x="294.69" y="621.3" width="3.8" height="13.3" fill="#ff2fd0"/>
<rect x="299.71" y="619.6" width="3.8" height="15" fill="#d2d2d2"/>
<rect x="304.74" y="621.3" width="3.8" height="13.3" fill="#ff2fd0"/>
<rect x="309.77" y="622.2" width="3.8" height="12.4" fill="#ff2fd0"/>
<rect x="314.79" y="622.3" width="3.8" height="12.3" fill="#ff2fd0"/>
<rect x="319.82" y="623" width="3.8" height="11.6" fill="#ff2fd0"/>
<rect x="324.85" y="623.9" width="3.8" height="10.7" fill="#ff2fd0"/>
<rect x="329.87" y="624" width="3.8" height="10.6" fill="#ff2fd0"/>
<rect x="334.9" y="623.2" width="3.8" height="11.4" fill="#ff2fd0"/>
<rect x="339.93" y="624.7" width="3.8" height="9.9" fill="#ff2fd0"/>
<rect x="344.96" y="625.3" width="3.8" height="9.3" fill="#ff2fd0"/>
<rect x="349.98" y="625.6" width="3.8" height="9" fill="#ff2fd0"/>
<rect x="355.01" y="625.6" width="3.8" height="9" fill="#ff2fd0"/>
<rect x="360.04" y="626.1" width="3.8" height="8.5" fill="#ff2fd0"/>
<rect x="365.06" y="626.5" width="3.8" height="8.1" fill="#ff2fd0"/>
<rect x="370.09" y="627" width="3.8" height="7.6" fill="#ff2fd0"/>
<rect x="375.12" y="627.3" width="3.8" height="7.3" fill="#ff2fd0"/>
<rect x="380.14" y="627" width="3.8" height="7.6" fill="#ff2fd0"/>
<rect x="385.17" y="626.1" width="3.8" height="8.5" fill="#ff2fd0"/>
<rect x="390.2" y="625.3" width="3.8" height="9.3" fill="#ff2fd0"/>
<rect x="395.23" y="618.9" width="3.8" height="15.7" fill="#d2d2d2"/>
<rect x="400.25" y="620.5" width="3.8" height="14.1" fill="#d2d2d2"/>
<rect x="405.28" y="621.3" width="3.8" height="13.3" fill="#d2d2d2"/>
<rect x="410.31" y="623.5" width="3.8" height="11.1" fill="#ff2fd0"/>
<rect x="415.33" y="624" width="3.8" height="10.6" fill="#ff2fd0"/>
<rect x="420.36" y="623" width="3.8" height="11.6" fill="#ff2fd0"/>
<rect x="425.39" y="624" width="3.8" height="10.6" fill="#ff2fd0"/>
<rect x="430.41" y="626.5" width="3.8" height="8.1" fill="#ff2fd0"/>
<rect x="435.44" y="626.1" width="3.8" height="8.5" fill="#ff2fd0"/>
<rect x="440.47" y="627" width="3.8" height="7.6" fill="#ff2fd0"/>
<rect x="445.5" y="626.1" width="3.8" height="8.5" fill="#ff2fd0"/>
<rect x="450.52" y="625.3" width="3.8" height="9.3" fill="#ff2fd0"/>
<rect x="455.55" y="627" width="3.8" height="7.6" fill="#ff2fd0"/>
<rect x="460.58" y="627" width="3.8" height="7.6" fill="#ff2fd0"/>
<rect x="465.6" y="623.5" width="3.8" height="11.1" fill="#ff2fd0"/>
<rect x="470.63" y="626.1" width="3.8" height="8.5" fill="#ff2fd0"/>
<rect x="475.66" y="626.1" width="3.8" height="8.5" fill="#ff2fd0"/>
<rect x="480.68" y="627.3" width="3.8" height="7.3" fill="#ff2fd0"/>
<rect x="485.71" y="627.5" width="3.8" height="7.1" fill="#ff2fd0"/>
<rect x="490.74" y="628.2" width="3.8" height="6.4" fill="#ff2fd0"/>
<rect x="495.77" y="629.2" width="3.8" height="5.4" fill="#ff2fd0"/>
<rect x="500.79" y="630.7" width="3.8" height="3.9" fill="#ff2fd0"/>
<rect x="505.82" y="632.4" width="3.8" height="2.2" fill="#ff2fd0"/>
<rect x="510.85" y="632.4" width="3.8" height="2.2" fill="#ff2fd0"/>
<rect x="515.87" y="632.4" width="3.8" height="2.2" fill="#ff2fd0"/>
<rect x="520.9" y="632.4" width="3.8" height="2.2" fill="#ff2fd0"/>
<rect x="525.93" y="631.6" width="3.8" height="3" fill="#ff2fd0"/>
<rect x="530.95" y="631.6" width="3.8" height="3" fill="#ff2fd0"/>
<rect x="535.98" y="629" width="3.8" height="5.6" fill="#ff2fd0"/>
<rect x="541.01" y="627.3" width="3.8" height="7.3" fill="#ff2fd0"/>
<rect x="546.04" y="628.2" width="3.8" height="6.4" fill="#ff2fd0"/>
<rect x="551.06" y="629" width="3.8" height="5.6" fill="#ff2fd0"/>
<rect x="556.09" y="628.2" width="3.8" height="6.4" fill="#ff2fd0"/>
<rect x="561.12" y="628.2" width="3.8" height="6.4" fill="#ff2fd0"/>
<rect x="566.14" y="629.9" width="3.8" height="4.7" fill="#ff2fd0"/>
<rect x="571.17" y="631.6" width="3.8" height="3" fill="#ff2fd0"/>
<rect x="576.2" y="631.6" width="3.8" height="3" fill="#ff2fd0"/>
<rect x="581.22" y="633" width="3.8" height="1.6" fill="#ff2fd0"/>
<rect x="586.25" y="630.7" width="3.8" height="3.9" fill="#ff2fd0"/>
<rect x="591.28" y="630.7" width="3.8" height="3.9" fill="#ff2fd0"/>
<rect x="596.31" y="630.7" width="3.8" height="3.9" fill="#ff2fd0"/>
<rect x="601.33" y="629.2" width="3.8" height="5.4" fill="#ff2fd0"/>
<rect x="606.36" y="627.5" width="3.8" height="7.1" fill="#ff2fd0"/>
<rect x="611.39" y="626.5" width="3.8" height="8.1" fill="#ff2fd0"/>
<rect x="616.41" y="625.6" width="3.8" height="9" fill="#d2d2d2"/>
<rect x="621.44" y="623.5" width="3.8" height="11.1" fill="#d2d2d2"/>
<rect x="626.47" y="623.5" width="3.8" height="11.1" fill="#d2d2d2"/>
<rect x="631.49" y="623.5" width="3.8" height="11.1" fill="#d2d2d2"/>
<rect x="636.52" y="623.2" width="3.8" height="11.4" fill="#d2d2d2"/>
<rect x="641.55" y="623.9" width="3.8" height="10.7" fill="#d2d2d2"/>
<rect x="646.58" y="624.4" width="3.8" height="10.2" fill="#d2d2d2"/>
<rect x="651.6" y="623.9" width="3.8" height="10.7" fill="#d2d2d2"/>
<rect x="656.63" y="623.5" width="3.8" height="11.1" fill="#d2d2d2"/>
<rect x="661.66" y="623.5" width="3.8" height="11.1" fill="#d2d2d2"/>
<rect x="666.68" y="614.5" width="3.8" height="20.1" fill="#2040c4"/>
<rect x="671.71" y="614.5" width="3.8" height="20.1" fill="#2040c4"/>
<rect x="676.74" y="615.8" width="3.8" height="18.8" fill="#2040c4"/>
<rect x="681.76" y="613.6" width="3.8" height="21" fill="#2040c4"/>
<rect x="686.79" y="612.1" width="3.8" height="22.5" fill="#2040c4"/>
<rect x="691.82" y="613.3" width="3.8" height="21.3" fill="#2040c4"/>
<rect x="696.85" y="613.8" width="3.8" height="20.8" fill="#2040c4"/>
<rect x="701.87" y="616.2" width="3.8" height="18.4" fill="#2040c4"/>
<rect x="706.9" y="613.8" width="3.8" height="20.8" fill="#2040c4"/>
<rect x="711.93" y="613.3" width="3.8" height="21.3" fill="#2040c4"/>
<rect x="716.95" y="612.9" width="3.8" height="21.7" fill="#2040c4"/>
<rect x="721.98" y="613.8" width="3.8" height="20.8" fill="#2040c4"/>
<rect x="727.01" y="614.1" width="3.8" height="20.5" fill="#2040c4"/>
<rect x="732.03" y="614.1" width="3.8" height="20.5" fill="#2040c4"/>
<rect x="737.06" y="614.6" width="3.8" height="20" fill="#2040c4"/>
<rect x="742.09" y="617.9" width="3.8" height="16.7" fill="#2040c4"/>
<rect x="747.12" y="618.4" width="3.8" height="16.2" fill="#2040c4"/>
<rect x="752.14" y="618.4" width="3.8" height="16.2" fill="#2040c4"/>
<rect x="757.17" y="617" width="3.8" height="17.6" fill="#2040c4"/>
<rect x="762.2" y="615.8" width="3.8" height="18.8" fill="#2040c4"/>
<rect x="767.22" y="617.5" width="3.8" height="17.1" fill="#2040c4"/>
<rect x="772.25" y="617" width="3.8" height="17.6" fill="#2040c4"/>
<rect x="777.28" y="617.5" width="3.8" height="17.1" fill="#2040c4"/>
<rect x="782.3" y="616.7" width="3.8" height="17.9" fill="#2040c4"/>
<rect x="787.33" y="616.2" width="3.8" height="18.4" fill="#2040c4"/>
<rect x="792.36" y="614.1" width="3.8" height="20.5" fill="#2040c4"/>
<rect x="797.39" y="608.6" width="3.8" height="26" fill="#2040c4"/>
<rect x="802.41" y="610.4" width="3.8" height="24.2" fill="#2040c4"/>
<rect x="807.44" y="609.3" width="3.8" height="25.3" fill="#2040c4"/>
<rect x="812.47" y="608.5" width="3.8" height="26.1" fill="#2040c4"/>
<rect x="817.49" y="608.6" width="3.8" height="26" fill="#2040c4"/>
<rect x="822.52" y="607.3" width="3.8" height="27.3" fill="#2040c4"/>
<rect x="827.55" y="608.1" width="3.8" height="26.5" fill="#2040c4"/>
<rect x="832.57" y="609.5" width="3.8" height="25.1" fill="#2040c4"/>
<rect x="837.6" y="611.6" width="3.8" height="23" fill="#2040c4"/>
<rect x="842.63" y="613.3" width="3.8" height="21.3" fill="#2040c4"/>
<rect x="847.66" y="614.6" width="3.8" height="20" fill="#2040c4"/>
<rect x="852.68" y="613.3" width="3.8" height="21.3" fill="#2040c4"/>
<rect x="857.71" y="612.1" width="3.8" height="22.5" fill="#2040c4"/>
<rect x="862.74" y="609.3" width="3.8" height="25.3" fill="#2040c4"/>
<rect x="867.76" y="612.4" width="3.8" height="22.2" fill="#2040c4"/>
<rect x="872.79" y="612.9" width="3.8" height="21.7" fill="#2040c4"/>
<rect x="877.82" y="613.3" width="3.8" height="21.3" fill="#2040c4"/>
<rect x="882.84" y="613.8" width="3.8" height="20.8" fill="#2040c4"/>
<rect x="887.87" y="612.9" width="3.8" height="21.7" fill="#2040c4"/>
<rect x="892.9" y="611.2" width="3.8" height="23.4" fill="#2040c4"/>
<rect x="897.93" y="612.4" width="3.8" height="22.2" fill="#2040c4"/>
<rect x="902.95" y="613.8" width="3.8" height="20.8" fill="#2040c4"/>
<rect x="907.98" y="614.1" width="3.8" height="20.5" fill="#2040c4"/>
<rect x="913.01" y="614.6" width="3.8" height="20" fill="#2040c4"/>
<rect x="918.03" y="614.1" width="3.8" height="20.5" fill="#2040c4"/>
<rect x="923.06" y="614.5" width="3.8" height="20.1" fill="#2040c4"/>
<rect x="928.09" y="615" width="3.8" height="19.6" fill="#2040c4"/>
<rect x="933.11" y="616.2" width="3.8" height="18.4" fill="#2040c4"/>
<rect x="938.14" y="616.2" width="3.8" height="18.4" fill="#2040c4"/>
<rect x="943.17" y="616.5" width="3.8" height="18.1" fill="#2040c4"/>
<rect x="948.2" y="616.8" width="3.8" height="17.8" fill="#d2d2d2"/>
<rect x="953.22" y="617.3" width="3.8" height="17.3" fill="#d2d2d2"/>
<rect x="958.25" y="617.8" width="3.8" height="16.8" fill="#d2d2d2"/>
<rect x="963.28" y="618.1" width="3.8" height="16.5" fill="#d2d2d2"/>
<rect x="968.3" y="618.8" width="3.8" height="15.8" fill="#d2d2d2"/>
<rect x="973.33" y="619.1" width="3.8" height="15.5" fill="#d2d2d2"/>
<rect x="978.36" y="619.6" width="3.8" height="15" fill="#d2d2d2"/>
<rect x="983.38" y="620.2" width="3.8" height="14.4" fill="#d2d2d2"/>
<rect x="988.41" y="620.9" width="3.8" height="13.7" fill="#d2d2d2"/>
<rect x="993.44" y="621.4" width="3.8" height="13.2" fill="#d2d2d2"/>
<rect x="998.47" y="620.9" width="3.8" height="13.7" fill="#d2d2d2"/>
<rect x="1003.49" y="622" width="3.8" height="12.6" fill="#d2d2d2"/>
<rect x="1008.52" y="619.9" width="3.8" height="14.7" fill="#d2d2d2"/>
<clipPath id="ax"><rect x="1144" y="13.6" width="26" height="500"/></clipPath><g font-size="6.6" fill="#e4e4e4" clip-path="url(#ax)">
<rect x="1144.4" y="504.19" width="2.4" height="0.7" fill="#aaa"/>
<text transform="translate(1147.6 507.14) scale(0.88 1)" font-weight="bold" fill="#fff">200</text>
<rect x="1144.4" y="484.96" width="2.4" height="0.7" fill="#aaa"/>
<text transform="translate(1147.6 487.91) scale(0.88 1)">205</text>
<rect x="1144.4" y="466.18" width="2.4" height="0.7" fill="#aaa"/>
<text transform="translate(1147.6 469.13) scale(0.88 1)">210</text>
<rect x="1144.4" y="447.85" width="2.4" height="0.7" fill="#aaa"/>
<text transform="translate(1147.6 450.8) scale(0.88 1)">215</text>
<rect x="1144.4" y="429.94" width="2.4" height="0.7" fill="#aaa"/>
<text transform="translate(1147.6 432.89) scale(0.88 1)">220</text>
<rect x="1144.4" y="412.44" width="2.4" height="0.7" fill="#aaa"/>
<text transform="translate(1147.6 415.39) scale(0.88 1)">225</text>
<rect x="1144.4" y="395.32" width="2.4" height="0.7" fill="#aaa"/>
<text transform="translate(1147.6 398.27) scale(0.88 1)">230</text>
<rect x="1144.4" y="378.56" width="2.4" height="0.7" fill="#aaa"/>
<text transform="translate(1147.6 381.51) scale(0.88 1)">235</text>
<rect x="1144.4" y="362.16" width="2.4" height="0.7" fill="#aaa"/>
<text transform="translate(1147.6 365.11) scale(0.88 1)">240</text>
<rect x="1144.4" y="346.1" width="2.4" height="0.7" fill="#aaa"/>
<text transform="translate(1147.6 349.05) scale(0.88 1)">245</text>
<rect x="1144.4" y="330.36" width="2.4" height="0.7" fill="#aaa"/>
<text transform="translate(1147.6 333.31) scale(0.88 1)" font-weight="bold" fill="#fff">250</text>
<rect x="1144.4" y="314.94" width="2.4" height="0.7" fill="#aaa"/>
<text transform="translate(1147.6 317.89) scale(0.88 1)">255</text>
<rect x="1144.4" y="299.81" width="2.4" height="0.7" fill="#aaa"/>
<text transform="translate(1147.6 302.76) scale(0.88 1)">260</text>
<rect x="1144.4" y="284.97" width="2.4" height="0.7" fill="#aaa"/>
<text transform="translate(1147.6 287.92) scale(0.88 1)">265</text>
<rect x="1144.4" y="270.41" width="2.4" height="0.7" fill="#aaa"/>
<text transform="translate(1147.6 273.36) scale(0.88 1)">270</text>
<rect x="1144.4" y="256.12" width="2.4" height="0.7" fill="#aaa"/>
<text transform="translate(1147.6 259.07) scale(0.88 1)">275</text>
<rect x="1144.4" y="242.08" width="2.4" height="0.7" fill="#aaa"/>
<text transform="translate(1147.6 245.03) scale(0.88 1)">280</text>
<rect x="1144.4" y="228.29" width="2.4" height="0.7" fill="#aaa"/>
<text transform="translate(1147.6 231.24) scale(0.88 1)">285</text>
<rect x="1144.4" y="214.74" width="2.4" height="0.7" fill="#aaa"/>
<text transform="translate(1147.6 217.69) scale(0.88 1)">290</text>
<rect x="1144.4" y="201.43" width="2.4" height="0.7" fill="#aaa"/>
<text transform="translate(1147.6 204.38) scale(0.88 1)">295</text>
<rect x="1144.4" y="188.33" width="2.4" height="0.7" fill="#aaa"/>
<text transform="translate(1147.6 191.28) scale(0.88 1)" font-weight="bold" fill="#fff">300</text>
<rect x="1144.4" y="175.46" width="2.4" height="0.7" fill="#aaa"/>
<text transform="translate(1147.6 178.41) scale(0.88 1)">305</text>
<rect x="1144.4" y="162.79" width="2.4" height="0.7" fill="#aaa"/>
<text transform="translate(1147.6 165.74) scale(0.88 1)">310</text>
<rect x="1144.4" y="150.33" width="2.4" height="0.7" fill="#aaa"/>
<text transform="translate(1147.6 153.28) scale(0.88 1)">315</text>
<rect x="1144.4" y="138.06" width="2.4" height="0.7" fill="#aaa"/>
<text transform="translate(1147.6 141.01) scale(0.88 1)">320</text>
<rect x="1144.4" y="125.98" width="2.4" height="0.7" fill="#aaa"/>
<text transform="translate(1147.6 128.93) scale(0.88 1)">325</text>
<rect x="1144.4" y="114.09" width="2.4" height="0.7" fill="#aaa"/>
<text transform="translate(1147.6 117.04) scale(0.88 1)">330</text>
<rect x="1144.4" y="102.37" width="2.4" height="0.7" fill="#aaa"/>
<text transform="translate(1147.6 105.32) scale(0.88 1)">335</text>
<rect x="1144.4" y="90.83" width="2.4" height="0.7" fill="#aaa"/>
<text transform="translate(1147.6 93.78) scale(0.88 1)">340</text>
<rect x="1144.4" y="79.46" width="2.4" height="0.7" fill="#aaa"/>
<text transform="translate(1147.6 82.41) scale(0.88 1)">345</text>
<rect x="1144.4" y="68.25" width="2.4" height="0.7" fill="#aaa"/>
<text transform="translate(1147.6 71.2) scale(0.88 1)" font-weight="bold" fill="#fff">350</text>
<rect x="1144.4" y="57.2" width="2.4" height="0.7" fill="#aaa"/>
<text transform="translate(1147.6 60.15) scale(0.88 1)">355</text>
<rect x="1144.4" y="46.3" width="2.4" height="0.7" fill="#aaa"/>
<text transform="translate(1147.6 49.25) scale(0.88 1)">360</text>
<rect x="1144.4" y="35.56" width="2.4" height="0.7" fill="#aaa"/>
<text transform="translate(1147.6 38.51) scale(0.88 1)">365</text>
<rect x="1144.4" y="24.96" width="2.4" height="0.7" fill="#aaa"/>
<text transform="translate(1147.6 27.91) scale(0.88 1)">370</text>
<rect x="1144.4" y="14.5" width="2.4" height="0.7" fill="#aaa"/>
<text transform="translate(1147.6 17.45) scale(0.88 1)">375</text>
</g>
<rect x="1071.5" y="96" width="72.5" height="7.6" fill="#fff" stroke="#4caf50" stroke-width="0.7"/>
<text x="1072.5" y="102.4" font-size="6.7" fill="#3d9a40" textLength="70.5" lengthAdjust="spacingAndGlyphs">TARGET 335,00 (+6,81%)</text>
<rect x="1087.5" y="155.8" width="56.5" height="7.8" fill="#fff" stroke="#f8b090" stroke-width="0.7"/>
<text x="1088.5" y="162.4" font-size="6.7" fill="#f39a70" textLength="54.5" lengthAdjust="spacingAndGlyphs">ENTRY LOW 310,00</text>
<rect x="1081.5" y="189" width="62.5" height="7.8" fill="#fff" stroke="#f03a3a" stroke-width="0.7"/>
<text x="1082.5" y="195.6" font-size="6.7" fill="#e83030" textLength="60.5" lengthAdjust="spacingAndGlyphs">STOP 297,30 (-5,21%)</text>
<rect x="1147" y="151.1" width="19.5" height="6.5" fill="#f0c000"/>
<text x="1147.5" y="156.9" font-size="6.5" fill="#1a1a1a" textLength="18.5" lengthAdjust="spacingAndGlyphs">313,64</text>
<rect x="1144.4" y="511.25" width="2.4" height="0.7" fill="#aaa"/>
<text transform="translate(1147.6 514.1) scale(0.88 1)" font-size="6.6" fill="#e4e4e4">2.000k</text>
<rect x="1144.4" y="520.65" width="2.4" height="0.7" fill="#aaa"/>
<text transform="translate(1147.6 523.5) scale(0.88 1)" font-size="6.6" fill="#e4e4e4">1.500k</text>
<rect x="1144.4" y="529.95" width="2.4" height="0.7" fill="#aaa"/>
<text transform="translate(1147.6 532.8) scale(0.88 1)" font-size="6.6" fill="#e4e4e4">1.000k</text>
<rect x="1144.4" y="548.65" width="2.4" height="0.7" fill="#aaa"/>
<text transform="translate(1147.6 551.5) scale(0.88 1)" font-size="6.6" fill="#e4e4e4">0</text>
<rect x="1144.4" y="561.05" width="2.4" height="0.7" fill="#aaa"/>
<text transform="translate(1147.6 563.9) scale(0.88 1)" font-size="6.6" fill="#e4e4e4">20</text>
<rect x="1144.4" y="579.15" width="2.4" height="0.7" fill="#aaa"/>
<text transform="translate(1147.6 582) scale(0.88 1)" font-size="6.6" fill="#e4e4e4">10</text>
<rect x="1144.4" y="596.25" width="2.4" height="0.7" fill="#aaa"/>
<text transform="translate(1147.6 599.1) scale(0.88 1)" font-size="6.6" fill="#e4e4e4">0</text>
<rect x="1144.4" y="604.15" width="2.4" height="0.7" fill="#aaa"/>
<text transform="translate(1147.6 607) scale(0.88 1)" font-size="6.6" fill="#e4e4e4">80</text>
<rect x="1144.4" y="611.65" width="2.4" height="0.7" fill="#aaa"/>
<text transform="translate(1147.6 614.5) scale(0.88 1)" font-size="6.6" fill="#e4e4e4">60</text>
<rect x="1144.4" y="625.85" width="2.4" height="0.7" fill="#aaa"/>
<text transform="translate(1147.6 628.7) scale(0.88 1)" font-size="6.6" fill="#e4e4e4">20</text>
<rect x="1144.4" y="633.05" width="2.4" height="0.7" fill="#aaa"/>
<text transform="translate(1147.6 635.9) scale(0.88 1)" font-size="6.6" fill="#e4e4e4">0</text>
<rect x="1146.8" y="535.9" width="22.2" height="5.1" fill="#fff"/>
<rect x="1144.4" y="538.05" width="1.6" height="0.8" fill="#3050d0"/>
<text x="1147.2" y="540.2" font-size="6" fill="#3050d0" textLength="21.6" lengthAdjust="spacingAndGlyphs">552.469</text>
<rect x="1146.8" y="541.4" width="22.2" height="5.6" fill="#fff"/>
<rect x="1144.4" y="543.8" width="1.6" height="0.8" fill="#f0a030"/>
<text x="1147.2" y="546.2" font-size="6" fill="#f09020" textLength="21.6" lengthAdjust="spacingAndGlyphs">309.385</text>
<rect x="1146.8" y="566.4" width="21" height="5.9" fill="#fff"/>
<rect x="1144.4" y="568.95" width="1.6" height="0.8" fill="#3050d0"/>
<text x="1147.2" y="571.5" font-size="6" fill="#3050d0" textLength="20.4" lengthAdjust="spacingAndGlyphs">16,220</text>
<rect x="1146.8" y="583.4" width="21" height="5.2" fill="#fff"/>
<rect x="1144.4" y="585.6" width="1.6" height="0.8" fill="#f0a030"/>
<text x="1147.2" y="587.8" font-size="6" fill="#f09020" textLength="20.4" lengthAdjust="spacingAndGlyphs">6,8700</text>
<rect x="1146.8" y="617.2" width="19.2" height="5.8" fill="#fff"/>
<rect x="1144.4" y="619.7" width="1.6" height="0.8" fill="#999"/>
<text x="1147.2" y="622.2" font-size="6" fill="#777" textLength="18.6" lengthAdjust="spacingAndGlyphs">40,790</text>
<g font-size="6.4" text-anchor="middle">
<text x="29.63" y="644.6" font-weight="bold" fill="#eee">apr</text>
<text x="49.73" y="644.6" fill="#e0e0e0">05</text>
<text x="69.84" y="644.6" fill="#e0e0e0">11</text>
<text x="89.95" y="644.6" fill="#e0e0e0">17</text>
<text x="110.06" y="644.6" fill="#e0e0e0">23</text>
<text x="140.22" y="644.6" font-weight="bold" fill="#eee">mag</text>
<text x="170.38" y="644.6" fill="#e0e0e0">09</text>
<text x="190.49" y="644.6" fill="#e0e0e0">15</text>
<text x="210.6" y="644.6" fill="#e0e0e0">21</text>
<text x="230.71" y="644.6" fill="#e0e0e0">28</text>
<text x="250.81" y="644.6" font-weight="bold" fill="#eee">giu</text>
<text x="270.92" y="644.6" fill="#e0e0e0">07</text>
<text x="291.03" y="644.6" fill="#e0e0e0">13</text>
<text x="311.14" y="644.6" fill="#e0e0e0">20</text>
<text x="331.25" y="644.6" fill="#e0e0e0">26</text>
<text x="346.33" y="644.6" font-weight="bold" fill="#eee">lug</text>
<text x="371.46" y="644.6" fill="#e0e0e0">09</text>
<text x="391.57" y="644.6" fill="#e0e0e0">15</text>
<text x="411.68" y="644.6" fill="#e0e0e0">19</text>
<text x="431.79" y="644.6" fill="#e0e0e0">25</text>
<text x="456.92" y="644.6" font-weight="bold" fill="#eee">ago</text>
<text x="472" y="644.6" fill="#e0e0e0">06</text>
<text x="492.11" y="644.6" fill="#e0e0e0">12</text>
<text x="512.22" y="644.6" fill="#e0e0e0">16</text>
<text x="532.33" y="644.6" fill="#e0e0e0">22</text>
<text x="552.44" y="644.6" fill="#e0e0e0">28</text>
<text x="567.52" y="644.6" font-weight="bold" fill="#eee">set</text>
<text x="592.65" y="644.6" fill="#e0e0e0">10</text>
<text x="612.76" y="644.6" fill="#e0e0e0">16</text>
<text x="632.87" y="644.6" fill="#e0e0e0">20</text>
<text x="652.98" y="644.6" fill="#e0e0e0">26</text>
<text x="668.06" y="644.6" font-weight="bold" fill="#eee">ott</text>
<text x="693.19" y="644.6" fill="#e0e0e0">08</text>
<text x="713.3" y="644.6" fill="#e0e0e0">14</text>
<text x="733.41" y="644.6" fill="#e0e0e0">18</text>
<text x="753.51" y="644.6" fill="#e0e0e0">24</text>
<text x="783.68" y="644.6" font-weight="bold" fill="#eee">nov</text>
<text x="813.84" y="644.6" fill="#e0e0e0">11</text>
<text x="833.95" y="644.6" fill="#e0e0e0">15</text>
<text x="854.06" y="644.6" fill="#e0e0e0">21</text>
<text x="884.22" y="644.6" font-weight="bold" fill="#eee">dic</text>
<text x="914.38" y="644.6" fill="#e0e0e0">10</text>
<text x="934.49" y="644.6" fill="#e0e0e0">16</text>
<text x="954.6" y="644.6" fill="#e0e0e0">20</text>
<text x="974.7" y="644.6" fill="#e0e0e0">27</text>
<text x="989.78" y="644.6" font-weight="bold" fill="#eee">2025</text>
<text x="1014.92" y="644.6" fill="#e0e0e0">10</text>
<text x="1035.03" y="644.6" fill="#e0e0e0">16</text>
<text x="1055.13" y="644.6" fill="#e0e0e0">23</text>
<text x="1075.24" y="644.6" fill="#e0e0e0">29</text>
<text x="1090.32" y="644.6" font-weight="bold" fill="#eee">feb</text>
<text x="1115.46" y="644.6" fill="#e0e0e0">10</text>
<text x="1135.57" y="644.6" fill="#e0e0e0">14</text>
</g>
<rect x="16" y="646" width="1153" height="1" fill="#3a3a3a"/>
<rect x="22.63" y="638" width="0.6" height="1.6" fill="#777"/>
<rect x="133.22" y="638" width="0.6" height="1.6" fill="#777"/>
<rect x="243.81" y="638" width="0.6" height="1.6" fill="#777"/>
<rect x="339.33" y="638" width="0.6" height="1.6" fill="#777"/>
<rect x="449.92" y="638" width="0.6" height="1.6" fill="#777"/>
<rect x="560.52" y="638" width="0.6" height="1.6" fill="#777"/>
<rect x="661.06" y="638" width="0.6" height="1.6" fill="#777"/>
<rect x="776.68" y="638" width="0.6" height="1.6" fill="#777"/>
<rect x="877.22" y="638" width="0.6" height="1.6" fill="#777"/>
<rect x="982.78" y="638" width="0.6" height="1.6" fill="#777"/>
<rect x="1083.32" y="638" width="0.6" height="1.6" fill="#777"/>
<g stroke="#9a9a9a" stroke-width="1.1" fill="none">
<path d="M3.8 4.3 L8.9 9.5 M8.9 4.3 L3.8 9.5"/>
<path d="M12 9.2 H17"/>
<rect x="20.3" y="6" width="3.2" height="3.4" rx="0.6"/><path d="M21.8 6 V4.4 H25.4 V7.9 H23.5"/>
</g>
<rect x="409.4" y="1" width="0.7" height="11.4" fill="#2c2c2c"/><rect x="410.1" y="1" width="0.5" height="11.4" fill="#505050"/>
<rect x="418.3" y="1" width="0.7" height="11.4" fill="#2c2c2c"/><rect x="419" y="1" width="0.5" height="11.4" fill="#505050"/>
<rect x="439.3" y="1" width="0.7" height="11.4" fill="#2c2c2c"/><rect x="440" y="1" width="0.5" height="11.4" fill="#505050"/>
<rect x="453.4" y="1" width="0.7" height="11.4" fill="#2c2c2c"/><rect x="454.1" y="1" width="0.5" height="11.4" fill="#505050"/>
<rect x="525.4" y="1" width="0.7" height="11.4" fill="#2c2c2c"/><rect x="526.1" y="1" width="0.5" height="11.4" fill="#505050"/>
<rect x="546.4" y="1" width="0.7" height="11.4" fill="#2c2c2c"/><rect x="547.1" y="1" width="0.5" height="11.4" fill="#505050"/>
<rect x="561.7" y="1" width="0.7" height="11.4" fill="#2c2c2c"/><rect x="562.4" y="1" width="0.5" height="11.4" fill="#505050"/>
<rect x="570.7" y="1" width="0.7" height="11.4" fill="#2c2c2c"/><rect x="571.4" y="1" width="0.5" height="11.4" fill="#505050"/>
<rect x="1155.9" y="1" width="0.7" height="11.4" fill="#2c2c2c"/><rect x="1156.6" y="1" width="0.5" height="11.4" fill="#505050"/>
<g fill="#3fb43f"><rect x="400" y="6.5" width="1.2" height="3"/><rect x="402" y="5" width="1.2" height="3.5"/><rect x="404" y="3.5" width="1.2" height="4"/><rect x="406" y="2.5" width="1.2" height="4"/></g>
<circle cx="414" cy="4.3" r="1.7" fill="#888"/><rect x="412.4" y="6" width="3.2" height="3.5" rx="1" fill="#777"/><path d="M413 9.3 L414.3 10.6 L416.3 7.6" stroke="#35aaf0" stroke-width="1" fill="none"/>
<g font-family="Liberation Sans" font-size="6.6">
<text x="420.3" y="9.2" fill="#e6e6e6" font-weight="bold" textLength="10" lengthAdjust="spacingAndGlyphs">AYI</text>
<text x="441.7" y="9.2" fill="#e6e6e6" font-weight="bold">D</text>
</g>
<path d="M433 6.3 L434.8 8.1 L436.6 6.3" stroke="#cfcfcf" stroke-width="0.9" fill="none"/>
<path d="M448.2 6.3 L450 8.1 L451.8 6.3" stroke="#cfcfcf" stroke-width="0.9" fill="none"/>
<path d="M541.2 6.3 L543 8.1 L544.8 6.3" stroke="#cfcfcf" stroke-width="0.9" fill="none"/>
<path d="M564.5 6.3 L566.3 8.1 L568.1 6.3" stroke="#cfcfcf" stroke-width="0.9" fill="none"/>
<rect x="456.2" y="3.3" width="12.4" height="7" rx="1" fill="#6e6e6e"/>
<text x="457" y="8.8" font-size="7" fill="#dcdcdc" textLength="10.8" lengthAdjust="spacingAndGlyphs">25U</text>
<rect x="470.8" y="3.3" width="11.9" height="7" rx="1" fill="#363636" stroke="#4e4e4e" stroke-width="0.6"/>
<text x="471.6" y="8.8" font-size="7" fill="#d0d0d0" textLength="10.3" lengthAdjust="spacingAndGlyphs">50U</text>
<rect x="485.6" y="3.3" width="14.9" height="7" rx="1" fill="#363636" stroke="#4e4e4e" stroke-width="0.6"/>
<text x="486.4" y="8.8" font-size="7" fill="#d0d0d0" textLength="13.3" lengthAdjust="spacingAndGlyphs">500U</text>
<rect x="503" y="3.3" width="20.6" height="7" rx="1" fill="#363636" stroke="#4e4e4e" stroke-width="0.6"/>
<text x="503.8" y="8.8" font-size="7" fill="#d0d0d0" textLength="19" lengthAdjust="spacingAndGlyphs">2.500U</text>
<text x="527.9" y="9.2" font-size="6.4" font-weight="bold" fill="#e8e8e8" textLength="11" lengthAdjust="spacingAndGlyphs">25U</text>
<path d="M550 5.5 Q552 1 554.5 3.5 L557 7 Q558.5 8 560.5 3.5" stroke="#30c030" stroke-width="1.3" fill="none"/>
<path d="M549.8 6.5 L553 5 L556.5 6.8 L558 6.3 L560 5" stroke="#e05050" stroke-width="0.8" fill="none"/>
<rect x="549.8" y="9" width="10.8" height="3.2" fill="#30d830"/><rect x="551.8" y="10" width="1.2" height="2" fill="#c86060"/><rect x="555" y="10.2" width="1.2" height="2" fill="#c86060"/>
<rect x="573.6" y="3.5" width="6" height="6.2" fill="#3a3d50"/><rect x="576.1" y="4.5" width="1" height="4.2" fill="#9aa"/>
<text x="583.3" y="9.1" font-size="6.3" fill="#dcdcdc" textLength="60.5" lengthAdjust="spacingAndGlyphs">ACUITY BRANDS INC.</text>
<text x="646.9" y="9.1" font-size="6.3" fill="#3cc43c" textLength="18" lengthAdjust="spacingAndGlyphs">313,64</text>
<rect x="666.9" y="3.1" width="23.4" height="7.3" fill="#3cbf3c"/>
<text x="668" y="9.1" font-size="6.3" fill="#f0fff0" textLength="21.2" lengthAdjust="spacingAndGlyphs">+3,22%</text>
<path d="M694.9 4 L693.2 6.3 H694.4 V8.8 H695.4 V6.3 H696.6 Z" fill="#e0e0e0"/>
<text x="700" y="9.1" font-size="6.3" fill="#dcdcdc" textLength="18" lengthAdjust="spacingAndGlyphs">313,73</text>
<path d="M722.8 8.8 L721 6.5 H722.3 V4 H723.3 V6.5 H724.6 Z" fill="#e0e0e0"/>
<text x="727.7" y="9.1" font-size="6.3" fill="#dcdcdc" textLength="17.4" lengthAdjust="spacingAndGlyphs">297,51</text>
<g fill="#cfcfcf"><rect x="748.3" y="7.6" width="0.9" height="1.2"/><rect x="750" y="6.2" width="0.9" height="2.6"/><rect x="751.7" y="4.6" width="0.9" height="4.2"/></g>
<text x="755.9" y="9.1" font-size="6.3" fill="#dcdcdc" textLength="21" lengthAdjust="spacingAndGlyphs">552.469</text>
<circle cx="782.3" cy="6.6" r="2.3" fill="#8a10e0"/>
<path d="M1163 2.6 Q1159.3 2.8 1159.4 6.2" stroke="#f05a5a" stroke-width="1.5" fill="none"/><path d="M1157.2 5.6 L1159.4 9.2 L1161.6 5.6 Z" fill="#f05a5a"/>
<path d="M1161.2 10.8 Q1165.6 10.6 1165.5 6.8" stroke="#22c022" stroke-width="1.5" fill="none"/><path d="M1163.3 7.2 L1165.5 3.8 L1167.7 7.2 Z" fill="#22c022"/>
<path d="M4.2 25.3 L11.5 18 L13 19.5 L5.7 26.8 Z" fill="none" stroke="#1fa01f" stroke-width="0.9"/><path d="M3.6 26.6 H13.2" stroke="#23b023" stroke-width="1.4"/><path d="M3.8 26.6 L5 23.6 L7 25.4 Z" fill="#23b023"/><rect x="1.8" y="28.5" width="12.9" height="14" rx="1" fill="#585858"/><path d="M6 31.5 L11 36.5 L9 36.8 L10.6 39.8 L9.6 40.3 L8.1 37.3 L6.6 38.6 Z" fill="#c8d0d8"/><g transform="translate(8 48.5) rotate(-45)"><rect x="-5.4" y="-1.7" width="10.8" height="3.4" fill="#0c300c" stroke="#1f8a1f" stroke-width="0.8"/><path d="M-4 -1.6 v1.5 M-2.7 -1.6 v1 M-1.4 -1.6 v1.5 M-0.1 -1.6 v1 M1.2 -1.6 v1.5 M2.5 -1.6 v1 M3.8 -1.6 v1.5" stroke="#1f8a1f" stroke-width="0.45"/></g><g transform="translate(8 62) rotate(-45)"><rect x="-5.4" y="-1.7" width="10.8" height="3.4" fill="#2e2e2e" stroke="#8a8a8a" stroke-width="0.8"/><path d="M-4 -1.6 v1.5 M-2.7 -1.6 v1 M-1.4 -1.6 v1.5 M-0.1 -1.6 v1 M1.2 -1.6 v1.5 M2.5 -1.6 v1 M3.8 -1.6 v1.5" stroke="#8a8a8a" stroke-width="0.45"/></g><g transform="translate(8 76.5) rotate(-45)"><rect x="-5.4" y="-1.7" width="10.8" height="3.4" fill="#3a2620" stroke="#9a6a5a" stroke-width="0.8"/><path d="M-4 -1.6 v1.5 M-2.7 -1.6 v1 M-1.4 -1.6 v1.5 M-0.1 -1.6 v1 M1.2 -1.6 v1.5 M2.5 -1.6 v1 M3.8 -1.6 v1.5" stroke="#9a6a5a" stroke-width="0.45"/></g><rect x="4.3" y="87" width="7.2" height="6.5" fill="#6a3a2a"/><rect x="4.3" y="87" width="7.2" height="1.3" fill="#4060d0"/><path d="M5 91 L7 89.5 L9 91.5 L11 89" stroke="#f0a030" stroke-width="0.7" fill="none"/><path d="M10.5 94 L12.5 92 L11.8 95.5" stroke="#30b0f0" stroke-width="0.9" fill="none"/><circle cx="7.3" cy="103.6" r="2.6" fill="none" stroke="#9a9a9a" stroke-width="1"/><path d="M9.2 105.5 L12 108.3" stroke="#9a9a9a" stroke-width="1.3"/><path d="M5 120.5 Q5.5 114.5 8 114.3 Q10.5 114.5 11 120.5 Z" fill="#e8e8e8"/><circle cx="8" cy="121.3" r="0.8" fill="#e8e8e8"/><path d="M3.5 115 L4.6 116 M12.5 115 L11.4 116" stroke="#bbb" stroke-width="0.6"/><g stroke="#25b8e8" stroke-width="1" fill="#25b8e8"><path d="M8 125.5 V134.5 M3.5 130 H12.5"/><path d="M8 125 L6.6 126.8 H9.4Z M8 135 L6.6 133.2 H9.4Z M3 130 L4.8 128.6 V131.4Z M13 130 L11.2 128.6 V131.4Z" stroke="none"/></g><rect x="3.6" y="139.6" width="8.8" height="8.8" rx="1.5" fill="none" stroke="#1f9a1f" stroke-width="0.9"/><text x="8" y="146.7" font-size="7" font-weight="bold" fill="#fff" text-anchor="middle">T</text><rect x="4" y="154.5" width="5.5" height="6.5" fill="#666" stroke="#888" stroke-width="0.5"/><rect x="6.5" y="156.5" width="5.5" height="6.5" fill="#777" stroke="#999" stroke-width="0.5"/><path d="M4.5 167 L11.5 174.5 M11.5 167 L4.5 174.5" stroke="#e0e0e0" stroke-width="1.4"/><circle cx="4.8" cy="167.2" r="1.3" fill="#e0e0e0"/><circle cx="11.3" cy="167.2" r="1.3" fill="#e0e0e0"/><rect x="5" y="182.5" width="6" height="6.8" rx="0.8" fill="#aaa"/><rect x="4.2" y="181.2" width="7.6" height="1" fill="#bbb"/><rect x="7" y="180.3" width="2" height="1" fill="#bbb"/><path d="M3.5 205 L12.5 193" stroke="#1f9a1f" stroke-width="0.8"/><path d="M5 215 L11 210" stroke="#1f9a1f" stroke-width="0.9"/><circle cx="4.6" cy="215.3" r="1.1" fill="none" stroke="#1f9a1f" stroke-width="0.7"/><circle cx="11.4" cy="209.7" r="1.1" fill="none" stroke="#1f9a1f" stroke-width="0.7"/><path d="M4.5 231 L11 225" stroke="#1f9a1f" stroke-width="1"/><path d="M12 224 L8.5 224.8 L11.2 227.5 Z" fill="#1f9a1f"/><circle cx="4.5" cy="231" r="1" fill="none" stroke="#1f9a1f" stroke-width="0.6"/><path d="M3.3 244.5 H12.7" stroke="#1fa0a0" stroke-width="0.8"/><path d="M3.5 242.5 L6 239 L8.5 241.5 L12.5 237" stroke="#3a70f0" stroke-width="1"/><path d="M8 236.8 H12.8" stroke="#e03030" stroke-width="0.9"/><path d="M3.5 258.5 L12.5 249.5 L11 258.5 Z" fill="none" stroke="#20b020" stroke-width="0.9"/><path d="M3.5 250.5 L12.5 258" stroke="#e03030" stroke-width="1"/><path d="M3.5 253 L12 256" stroke="#30a0e0" stroke-width="0.7"/><rect x="1.8" y="263.3" width="12.9" height="11.3" rx="1" fill="#5a5a5a"/><path d="M5 272 V268.5 A3 3 0 0 1 11 268.5 V272" fill="none" stroke="#e83a2a" stroke-width="1.8"/><rect x="4.1" y="271.3" width="1.8" height="1.3" fill="#ddd"/><rect x="10.1" y="271.3" width="1.8" height="1.3" fill="#ddd"/><path d="M8 277.5 L4 284 M8 277.5 L12 284 M8 277.5 V285 M6 281 L3.5 286 M10 281 L12.5 286" stroke="#25a8c8" stroke-width="0.8"/><circle cx="8" cy="277.5" r="0.9" fill="#25c8e8"/><path d="M3.5 296.3 H12.5" stroke="#1f9a1f" stroke-width="0.8" stroke-dasharray="1.5 1"/><path d="M3.5 310.3 H10" stroke="#1f9a1f" stroke-width="0.9"/><circle cx="11" cy="310.3" r="1.1" fill="none" stroke="#1f9a1f" stroke-width="0.7"/><circle cx="8" cy="324" r="3.6" fill="#f0a020"/><path d="M8 324 L8 320.4 A3.6 3.6 0 0 1 11.6 324 Z" fill="#e03030"/><path d="M8 324 L11.6 324 A3.6 3.6 0 0 1 8 327.6 Z" fill="#30a030"/><path d="M8 324 L8 327.6 A3.6 3.6 0 0 1 4.4 324 Z" fill="#3050e0"/><circle cx="8" cy="324" r="1.4" fill="#000"/><circle cx="10.5" cy="326.5" r="1.2" fill="#30c030"/><rect x="5.5" y="617" width="6.5" height="5.5" fill="#7a8a9a" stroke="#aab" stroke-width="0.4"/><rect x="4.5" y="620.5" width="6" height="6" fill="#5a6a7a" stroke="#99a" stroke-width="0.4"/><rect x="8.5" y="622.5" width="5" height="4.5" fill="#8a9aaa" stroke="#ccc" stroke-width="0.4"/><path d="M5.5 625 L7.5 623.5 L9.5 625" stroke="#d03030" stroke-width="0.5" fill="none"/><path d="M5.5 626 H8.5" stroke="#30b030" stroke-width="0.5"/><circle cx="5" cy="617.4" r="2.4" fill="#20a020"/><rect x="4.6" y="616" width="0.8" height="2.8" fill="#fff"/><g fill="#e0e0e0"><rect x="4" y="637.4" width="1.8" height="1.6"/><rect x="7.2" y="637.4" width="1.8" height="1.6"/><rect x="10.4" y="637.4" width="1.8" height="1.6"/><path d="M10.3 640.6 L12.7 640.6 L11.5 642 Z"/></g>
<rect x="1155" y="638" width="0.8" height="9" fill="#444"/>
<path d="M1162.3 639.3 L1160.9 641 H1163.7 Z" fill="#30a0f0"/><rect x="1161.9" y="640.8" width="0.8" height="2" fill="#30a0f0"/><rect x="1158" y="643.2" width="9.5" height="3" fill="none" stroke="#999" stroke-width="0.5"/>
</svg></body></html>
